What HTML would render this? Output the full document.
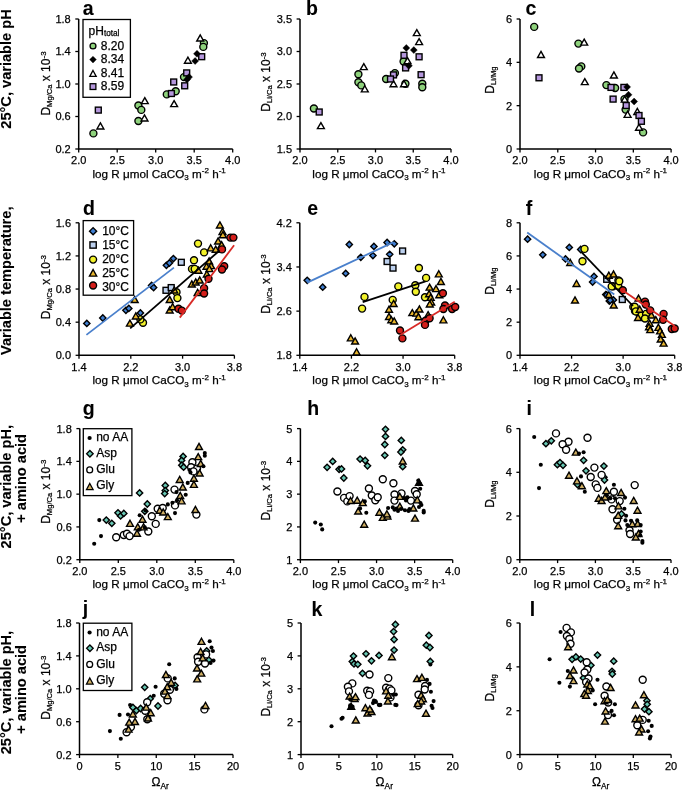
<!DOCTYPE html>
<html><head><meta charset="utf-8"><style>
html,body{margin:0;padding:0;background:#fff;overflow:hidden;}
svg{display:block;font-family:"Liberation Sans", sans-serif;will-change:transform;}
text{stroke:#000;stroke-width:0.25px;paint-order:stroke;}
text[font-weight="bold"]{stroke-width:0.1px;}
</style></head><body>
<svg width="685" height="793" viewBox="0 0 685 793" font-family="Liberation Sans, sans-serif">
<rect width="685" height="793" fill="#fff"/>
<path d="M78.70 19.00V149.00H232.70" fill="none" stroke="#000" stroke-width="1.5"/>
<path d="M78.70 149.00v3.4" stroke="#000" stroke-width="1.3"/>
<text x="78.70" y="164.40" font-size="11" text-anchor="middle" font-weight="normal" >2.0</text>
<path d="M117.20 149.00v3.4" stroke="#000" stroke-width="1.3"/>
<text x="117.20" y="164.40" font-size="11" text-anchor="middle" font-weight="normal" >2.5</text>
<path d="M155.70 149.00v3.4" stroke="#000" stroke-width="1.3"/>
<text x="155.70" y="164.40" font-size="11" text-anchor="middle" font-weight="normal" >3.0</text>
<path d="M194.20 149.00v3.4" stroke="#000" stroke-width="1.3"/>
<text x="194.20" y="164.40" font-size="11" text-anchor="middle" font-weight="normal" >3.5</text>
<path d="M232.70 149.00v3.4" stroke="#000" stroke-width="1.3"/>
<text x="232.70" y="164.40" font-size="11" text-anchor="middle" font-weight="normal" >4.0</text>
<path d="M78.70 149.00h-3.4" stroke="#000" stroke-width="1.3"/>
<text x="70.70" y="152.90" font-size="11" text-anchor="end" font-weight="normal" >0.2</text>
<path d="M78.70 116.50h-3.4" stroke="#000" stroke-width="1.3"/>
<text x="70.70" y="120.40" font-size="11" text-anchor="end" font-weight="normal" >0.6</text>
<path d="M78.70 84.00h-3.4" stroke="#000" stroke-width="1.3"/>
<text x="70.70" y="87.90" font-size="11" text-anchor="end" font-weight="normal" >1.0</text>
<path d="M78.70 51.50h-3.4" stroke="#000" stroke-width="1.3"/>
<text x="70.70" y="55.40" font-size="11" text-anchor="end" font-weight="normal" >1.4</text>
<path d="M78.70 19.00h-3.4" stroke="#000" stroke-width="1.3"/>
<text x="70.70" y="22.90" font-size="11" text-anchor="end" font-weight="normal" >1.8</text>
<path d="M300.00 19.00V149.00H451.00" fill="none" stroke="#000" stroke-width="1.5"/>
<path d="M300.00 149.00v3.4" stroke="#000" stroke-width="1.3"/>
<text x="300.00" y="164.40" font-size="11" text-anchor="middle" font-weight="normal" >2.0</text>
<path d="M337.75 149.00v3.4" stroke="#000" stroke-width="1.3"/>
<text x="337.75" y="164.40" font-size="11" text-anchor="middle" font-weight="normal" >2.5</text>
<path d="M375.50 149.00v3.4" stroke="#000" stroke-width="1.3"/>
<text x="375.50" y="164.40" font-size="11" text-anchor="middle" font-weight="normal" >3.0</text>
<path d="M413.25 149.00v3.4" stroke="#000" stroke-width="1.3"/>
<text x="413.25" y="164.40" font-size="11" text-anchor="middle" font-weight="normal" >3.5</text>
<path d="M451.00 149.00v3.4" stroke="#000" stroke-width="1.3"/>
<text x="451.00" y="164.40" font-size="11" text-anchor="middle" font-weight="normal" >4.0</text>
<path d="M300.00 149.00h-3.4" stroke="#000" stroke-width="1.3"/>
<text x="292.00" y="152.90" font-size="11" text-anchor="end" font-weight="normal" >1.5</text>
<path d="M300.00 116.50h-3.4" stroke="#000" stroke-width="1.3"/>
<text x="292.00" y="120.40" font-size="11" text-anchor="end" font-weight="normal" >2.0</text>
<path d="M300.00 84.00h-3.4" stroke="#000" stroke-width="1.3"/>
<text x="292.00" y="87.90" font-size="11" text-anchor="end" font-weight="normal" >2.5</text>
<path d="M300.00 51.50h-3.4" stroke="#000" stroke-width="1.3"/>
<text x="292.00" y="55.40" font-size="11" text-anchor="end" font-weight="normal" >3.0</text>
<path d="M300.00 19.00h-3.4" stroke="#000" stroke-width="1.3"/>
<text x="292.00" y="22.90" font-size="11" text-anchor="end" font-weight="normal" >3.5</text>
<path d="M520.00 19.00V149.00H671.10" fill="none" stroke="#000" stroke-width="1.5"/>
<path d="M520.00 149.00v3.4" stroke="#000" stroke-width="1.3"/>
<text x="520.00" y="164.40" font-size="11" text-anchor="middle" font-weight="normal" >2.0</text>
<path d="M557.77 149.00v3.4" stroke="#000" stroke-width="1.3"/>
<text x="557.77" y="164.40" font-size="11" text-anchor="middle" font-weight="normal" >2.5</text>
<path d="M595.55 149.00v3.4" stroke="#000" stroke-width="1.3"/>
<text x="595.55" y="164.40" font-size="11" text-anchor="middle" font-weight="normal" >3.0</text>
<path d="M633.33 149.00v3.4" stroke="#000" stroke-width="1.3"/>
<text x="633.33" y="164.40" font-size="11" text-anchor="middle" font-weight="normal" >3.5</text>
<path d="M671.10 149.00v3.4" stroke="#000" stroke-width="1.3"/>
<text x="671.10" y="164.40" font-size="11" text-anchor="middle" font-weight="normal" >4.0</text>
<path d="M520.00 149.00h-3.4" stroke="#000" stroke-width="1.3"/>
<text x="512.00" y="152.90" font-size="11" text-anchor="end" font-weight="normal" >0</text>
<path d="M520.00 105.67h-3.4" stroke="#000" stroke-width="1.3"/>
<text x="512.00" y="109.57" font-size="11" text-anchor="end" font-weight="normal" >2</text>
<path d="M520.00 62.33h-3.4" stroke="#000" stroke-width="1.3"/>
<text x="512.00" y="66.23" font-size="11" text-anchor="end" font-weight="normal" >4</text>
<path d="M520.00 19.00h-3.4" stroke="#000" stroke-width="1.3"/>
<text x="512.00" y="22.90" font-size="11" text-anchor="end" font-weight="normal" >6</text>
<path d="M79.00 222.80V355.30H234.40" fill="none" stroke="#000" stroke-width="1.5"/>
<path d="M79.00 355.30v3.4" stroke="#000" stroke-width="1.3"/>
<text x="79.00" y="370.70" font-size="11" text-anchor="middle" font-weight="normal" >1.4</text>
<path d="M130.80 355.30v3.4" stroke="#000" stroke-width="1.3"/>
<text x="130.80" y="370.70" font-size="11" text-anchor="middle" font-weight="normal" >2.2</text>
<path d="M182.60 355.30v3.4" stroke="#000" stroke-width="1.3"/>
<text x="182.60" y="370.70" font-size="11" text-anchor="middle" font-weight="normal" >3.0</text>
<path d="M234.40 355.30v3.4" stroke="#000" stroke-width="1.3"/>
<text x="234.40" y="370.70" font-size="11" text-anchor="middle" font-weight="normal" >3.8</text>
<path d="M79.00 355.30h-3.4" stroke="#000" stroke-width="1.3"/>
<text x="71.00" y="359.20" font-size="11" text-anchor="end" font-weight="normal" >0.0</text>
<path d="M79.00 322.18h-3.4" stroke="#000" stroke-width="1.3"/>
<text x="71.00" y="326.07" font-size="11" text-anchor="end" font-weight="normal" >0.4</text>
<path d="M79.00 289.05h-3.4" stroke="#000" stroke-width="1.3"/>
<text x="71.00" y="292.95" font-size="11" text-anchor="end" font-weight="normal" >0.8</text>
<path d="M79.00 255.93h-3.4" stroke="#000" stroke-width="1.3"/>
<text x="71.00" y="259.82" font-size="11" text-anchor="end" font-weight="normal" >1.2</text>
<path d="M79.00 222.80h-3.4" stroke="#000" stroke-width="1.3"/>
<text x="71.00" y="226.70" font-size="11" text-anchor="end" font-weight="normal" >1.6</text>
<path d="M299.80 222.80V355.30H454.70" fill="none" stroke="#000" stroke-width="1.5"/>
<path d="M299.80 355.30v3.4" stroke="#000" stroke-width="1.3"/>
<text x="299.80" y="370.70" font-size="11" text-anchor="middle" font-weight="normal" >1.4</text>
<path d="M351.43 355.30v3.4" stroke="#000" stroke-width="1.3"/>
<text x="351.43" y="370.70" font-size="11" text-anchor="middle" font-weight="normal" >2.2</text>
<path d="M403.07 355.30v3.4" stroke="#000" stroke-width="1.3"/>
<text x="403.07" y="370.70" font-size="11" text-anchor="middle" font-weight="normal" >3.0</text>
<path d="M454.70 355.30v3.4" stroke="#000" stroke-width="1.3"/>
<text x="454.70" y="370.70" font-size="11" text-anchor="middle" font-weight="normal" >3.8</text>
<path d="M299.80 355.30h-3.4" stroke="#000" stroke-width="1.3"/>
<text x="291.80" y="359.20" font-size="11" text-anchor="end" font-weight="normal" >1.8</text>
<path d="M299.80 311.13h-3.4" stroke="#000" stroke-width="1.3"/>
<text x="291.80" y="315.03" font-size="11" text-anchor="end" font-weight="normal" >2.6</text>
<path d="M299.80 266.97h-3.4" stroke="#000" stroke-width="1.3"/>
<text x="291.80" y="270.87" font-size="11" text-anchor="end" font-weight="normal" >3.4</text>
<path d="M299.80 222.80h-3.4" stroke="#000" stroke-width="1.3"/>
<text x="291.80" y="226.70" font-size="11" text-anchor="end" font-weight="normal" >4.2</text>
<path d="M520.00 222.80V355.30H674.70" fill="none" stroke="#000" stroke-width="1.5"/>
<path d="M520.00 355.30v3.4" stroke="#000" stroke-width="1.3"/>
<text x="520.00" y="370.70" font-size="11" text-anchor="middle" font-weight="normal" >1.4</text>
<path d="M571.57 355.30v3.4" stroke="#000" stroke-width="1.3"/>
<text x="571.57" y="370.70" font-size="11" text-anchor="middle" font-weight="normal" >2.2</text>
<path d="M623.13 355.30v3.4" stroke="#000" stroke-width="1.3"/>
<text x="623.13" y="370.70" font-size="11" text-anchor="middle" font-weight="normal" >3.0</text>
<path d="M674.70 355.30v3.4" stroke="#000" stroke-width="1.3"/>
<text x="674.70" y="370.70" font-size="11" text-anchor="middle" font-weight="normal" >3.8</text>
<path d="M520.00 355.30h-3.4" stroke="#000" stroke-width="1.3"/>
<text x="512.00" y="359.20" font-size="11" text-anchor="end" font-weight="normal" >0</text>
<path d="M520.00 322.18h-3.4" stroke="#000" stroke-width="1.3"/>
<text x="512.00" y="326.07" font-size="11" text-anchor="end" font-weight="normal" >2</text>
<path d="M520.00 289.05h-3.4" stroke="#000" stroke-width="1.3"/>
<text x="512.00" y="292.95" font-size="11" text-anchor="end" font-weight="normal" >4</text>
<path d="M520.00 255.93h-3.4" stroke="#000" stroke-width="1.3"/>
<text x="512.00" y="259.82" font-size="11" text-anchor="end" font-weight="normal" >6</text>
<path d="M520.00 222.80h-3.4" stroke="#000" stroke-width="1.3"/>
<text x="512.00" y="226.70" font-size="11" text-anchor="end" font-weight="normal" >8</text>
<path d="M79.80 428.60V559.70H233.80" fill="none" stroke="#000" stroke-width="1.5"/>
<path d="M79.80 559.70v3.4" stroke="#000" stroke-width="1.3"/>
<text x="79.80" y="575.10" font-size="11" text-anchor="middle" font-weight="normal" >2.0</text>
<path d="M118.30 559.70v3.4" stroke="#000" stroke-width="1.3"/>
<text x="118.30" y="575.10" font-size="11" text-anchor="middle" font-weight="normal" >2.5</text>
<path d="M156.80 559.70v3.4" stroke="#000" stroke-width="1.3"/>
<text x="156.80" y="575.10" font-size="11" text-anchor="middle" font-weight="normal" >3.0</text>
<path d="M195.30 559.70v3.4" stroke="#000" stroke-width="1.3"/>
<text x="195.30" y="575.10" font-size="11" text-anchor="middle" font-weight="normal" >3.5</text>
<path d="M233.80 559.70v3.4" stroke="#000" stroke-width="1.3"/>
<text x="233.80" y="575.10" font-size="11" text-anchor="middle" font-weight="normal" >4.0</text>
<path d="M79.80 559.70h-3.4" stroke="#000" stroke-width="1.3"/>
<text x="71.80" y="563.60" font-size="11" text-anchor="end" font-weight="normal" >0.2</text>
<path d="M79.80 526.93h-3.4" stroke="#000" stroke-width="1.3"/>
<text x="71.80" y="530.83" font-size="11" text-anchor="end" font-weight="normal" >0.6</text>
<path d="M79.80 494.15h-3.4" stroke="#000" stroke-width="1.3"/>
<text x="71.80" y="498.05" font-size="11" text-anchor="end" font-weight="normal" >1.0</text>
<path d="M79.80 461.38h-3.4" stroke="#000" stroke-width="1.3"/>
<text x="71.80" y="465.28" font-size="11" text-anchor="end" font-weight="normal" >1.4</text>
<path d="M79.80 428.60h-3.4" stroke="#000" stroke-width="1.3"/>
<text x="71.80" y="432.50" font-size="11" text-anchor="end" font-weight="normal" >1.8</text>
<path d="M300.40 428.60V559.70H452.70" fill="none" stroke="#000" stroke-width="1.5"/>
<path d="M300.40 559.70v3.4" stroke="#000" stroke-width="1.3"/>
<text x="300.40" y="575.10" font-size="11" text-anchor="middle" font-weight="normal" >2.0</text>
<path d="M338.47 559.70v3.4" stroke="#000" stroke-width="1.3"/>
<text x="338.47" y="575.10" font-size="11" text-anchor="middle" font-weight="normal" >2.5</text>
<path d="M376.55 559.70v3.4" stroke="#000" stroke-width="1.3"/>
<text x="376.55" y="575.10" font-size="11" text-anchor="middle" font-weight="normal" >3.0</text>
<path d="M414.62 559.70v3.4" stroke="#000" stroke-width="1.3"/>
<text x="414.62" y="575.10" font-size="11" text-anchor="middle" font-weight="normal" >3.5</text>
<path d="M452.70 559.70v3.4" stroke="#000" stroke-width="1.3"/>
<text x="452.70" y="575.10" font-size="11" text-anchor="middle" font-weight="normal" >4.0</text>
<path d="M300.40 559.70h-3.4" stroke="#000" stroke-width="1.3"/>
<text x="292.40" y="563.60" font-size="11" text-anchor="end" font-weight="normal" >1</text>
<path d="M300.40 526.93h-3.4" stroke="#000" stroke-width="1.3"/>
<text x="292.40" y="530.83" font-size="11" text-anchor="end" font-weight="normal" >2</text>
<path d="M300.40 494.15h-3.4" stroke="#000" stroke-width="1.3"/>
<text x="292.40" y="498.05" font-size="11" text-anchor="end" font-weight="normal" >3</text>
<path d="M300.40 461.38h-3.4" stroke="#000" stroke-width="1.3"/>
<text x="292.40" y="465.27" font-size="11" text-anchor="end" font-weight="normal" >4</text>
<path d="M300.40 428.60h-3.4" stroke="#000" stroke-width="1.3"/>
<text x="292.40" y="432.50" font-size="11" text-anchor="end" font-weight="normal" >5</text>
<path d="M519.80 428.60V559.70H671.00" fill="none" stroke="#000" stroke-width="1.5"/>
<path d="M519.80 559.70v3.4" stroke="#000" stroke-width="1.3"/>
<text x="519.80" y="575.10" font-size="11" text-anchor="middle" font-weight="normal" >2.0</text>
<path d="M557.60 559.70v3.4" stroke="#000" stroke-width="1.3"/>
<text x="557.60" y="575.10" font-size="11" text-anchor="middle" font-weight="normal" >2.5</text>
<path d="M595.40 559.70v3.4" stroke="#000" stroke-width="1.3"/>
<text x="595.40" y="575.10" font-size="11" text-anchor="middle" font-weight="normal" >3.0</text>
<path d="M633.20 559.70v3.4" stroke="#000" stroke-width="1.3"/>
<text x="633.20" y="575.10" font-size="11" text-anchor="middle" font-weight="normal" >3.5</text>
<path d="M671.00 559.70v3.4" stroke="#000" stroke-width="1.3"/>
<text x="671.00" y="575.10" font-size="11" text-anchor="middle" font-weight="normal" >4.0</text>
<path d="M519.80 559.70h-3.4" stroke="#000" stroke-width="1.3"/>
<text x="511.80" y="563.60" font-size="11" text-anchor="end" font-weight="normal" >0</text>
<path d="M519.80 516.00h-3.4" stroke="#000" stroke-width="1.3"/>
<text x="511.80" y="519.90" font-size="11" text-anchor="end" font-weight="normal" >2</text>
<path d="M519.80 472.30h-3.4" stroke="#000" stroke-width="1.3"/>
<text x="511.80" y="476.20" font-size="11" text-anchor="end" font-weight="normal" >4</text>
<path d="M519.80 428.60h-3.4" stroke="#000" stroke-width="1.3"/>
<text x="511.80" y="432.50" font-size="11" text-anchor="end" font-weight="normal" >6</text>
<path d="M79.50 623.00V754.60H233.00" fill="none" stroke="#000" stroke-width="1.5"/>
<path d="M79.50 754.60v3.4" stroke="#000" stroke-width="1.3"/>
<text x="79.50" y="770.00" font-size="11" text-anchor="middle" font-weight="normal" >0</text>
<path d="M117.88 754.60v3.4" stroke="#000" stroke-width="1.3"/>
<text x="117.88" y="770.00" font-size="11" text-anchor="middle" font-weight="normal" >5</text>
<path d="M156.25 754.60v3.4" stroke="#000" stroke-width="1.3"/>
<text x="156.25" y="770.00" font-size="11" text-anchor="middle" font-weight="normal" >10</text>
<path d="M194.62 754.60v3.4" stroke="#000" stroke-width="1.3"/>
<text x="194.62" y="770.00" font-size="11" text-anchor="middle" font-weight="normal" >15</text>
<path d="M233.00 754.60v3.4" stroke="#000" stroke-width="1.3"/>
<text x="233.00" y="770.00" font-size="11" text-anchor="middle" font-weight="normal" >20</text>
<path d="M79.50 754.60h-3.4" stroke="#000" stroke-width="1.3"/>
<text x="71.50" y="758.50" font-size="11" text-anchor="end" font-weight="normal" >0.2</text>
<path d="M79.50 721.70h-3.4" stroke="#000" stroke-width="1.3"/>
<text x="71.50" y="725.60" font-size="11" text-anchor="end" font-weight="normal" >0.6</text>
<path d="M79.50 688.80h-3.4" stroke="#000" stroke-width="1.3"/>
<text x="71.50" y="692.70" font-size="11" text-anchor="end" font-weight="normal" >1.0</text>
<path d="M79.50 655.90h-3.4" stroke="#000" stroke-width="1.3"/>
<text x="71.50" y="659.80" font-size="11" text-anchor="end" font-weight="normal" >1.4</text>
<path d="M79.50 623.00h-3.4" stroke="#000" stroke-width="1.3"/>
<text x="71.50" y="626.90" font-size="11" text-anchor="end" font-weight="normal" >1.8</text>
<path d="M301.00 623.00V754.60H452.70" fill="none" stroke="#000" stroke-width="1.5"/>
<path d="M301.00 754.60v3.4" stroke="#000" stroke-width="1.3"/>
<text x="301.00" y="770.00" font-size="11" text-anchor="middle" font-weight="normal" >0</text>
<path d="M338.93 754.60v3.4" stroke="#000" stroke-width="1.3"/>
<text x="338.93" y="770.00" font-size="11" text-anchor="middle" font-weight="normal" >5</text>
<path d="M376.85 754.60v3.4" stroke="#000" stroke-width="1.3"/>
<text x="376.85" y="770.00" font-size="11" text-anchor="middle" font-weight="normal" >10</text>
<path d="M414.77 754.60v3.4" stroke="#000" stroke-width="1.3"/>
<text x="414.77" y="770.00" font-size="11" text-anchor="middle" font-weight="normal" >15</text>
<path d="M452.70 754.60v3.4" stroke="#000" stroke-width="1.3"/>
<text x="452.70" y="770.00" font-size="11" text-anchor="middle" font-weight="normal" >20</text>
<path d="M301.00 754.60h-3.4" stroke="#000" stroke-width="1.3"/>
<text x="293.00" y="758.50" font-size="11" text-anchor="end" font-weight="normal" >1</text>
<path d="M301.00 721.70h-3.4" stroke="#000" stroke-width="1.3"/>
<text x="293.00" y="725.60" font-size="11" text-anchor="end" font-weight="normal" >2</text>
<path d="M301.00 688.80h-3.4" stroke="#000" stroke-width="1.3"/>
<text x="293.00" y="692.70" font-size="11" text-anchor="end" font-weight="normal" >3</text>
<path d="M301.00 655.90h-3.4" stroke="#000" stroke-width="1.3"/>
<text x="293.00" y="659.80" font-size="11" text-anchor="end" font-weight="normal" >4</text>
<path d="M301.00 623.00h-3.4" stroke="#000" stroke-width="1.3"/>
<text x="293.00" y="626.90" font-size="11" text-anchor="end" font-weight="normal" >5</text>
<path d="M519.90 623.00V754.60H671.10" fill="none" stroke="#000" stroke-width="1.5"/>
<path d="M519.90 754.60v3.4" stroke="#000" stroke-width="1.3"/>
<text x="519.90" y="770.00" font-size="11" text-anchor="middle" font-weight="normal" >0</text>
<path d="M557.70 754.60v3.4" stroke="#000" stroke-width="1.3"/>
<text x="557.70" y="770.00" font-size="11" text-anchor="middle" font-weight="normal" >5</text>
<path d="M595.50 754.60v3.4" stroke="#000" stroke-width="1.3"/>
<text x="595.50" y="770.00" font-size="11" text-anchor="middle" font-weight="normal" >10</text>
<path d="M633.30 754.60v3.4" stroke="#000" stroke-width="1.3"/>
<text x="633.30" y="770.00" font-size="11" text-anchor="middle" font-weight="normal" >15</text>
<path d="M671.10 754.60v3.4" stroke="#000" stroke-width="1.3"/>
<text x="671.10" y="770.00" font-size="11" text-anchor="middle" font-weight="normal" >20</text>
<path d="M519.90 754.60h-3.4" stroke="#000" stroke-width="1.3"/>
<text x="511.90" y="758.50" font-size="11" text-anchor="end" font-weight="normal" >0</text>
<path d="M519.90 710.73h-3.4" stroke="#000" stroke-width="1.3"/>
<text x="511.90" y="714.63" font-size="11" text-anchor="end" font-weight="normal" >2</text>
<path d="M519.90 666.87h-3.4" stroke="#000" stroke-width="1.3"/>
<text x="511.90" y="670.77" font-size="11" text-anchor="end" font-weight="normal" >4</text>
<path d="M519.90 623.00h-3.4" stroke="#000" stroke-width="1.3"/>
<text x="511.90" y="626.90" font-size="11" text-anchor="end" font-weight="normal" >6</text>
<text x="92.50" y="177.60" font-size="11.7">log R μmol CaCO<tspan font-size="8" dy="2.6">3</tspan><tspan dy="-2.6"> m</tspan><tspan font-size="8" dy="-4.2">-2</tspan><tspan dy="4.2"> h</tspan><tspan font-size="8" dy="-4.2">-1</tspan></text>
<text x="312.30" y="177.60" font-size="11.7">log R μmol CaCO<tspan font-size="8" dy="2.6">3</tspan><tspan dy="-2.6"> m</tspan><tspan font-size="8" dy="-4.2">-2</tspan><tspan dy="4.2"> h</tspan><tspan font-size="8" dy="-4.2">-1</tspan></text>
<text x="533.80" y="177.60" font-size="11.7">log R μmol CaCO<tspan font-size="8" dy="2.6">3</tspan><tspan dy="-2.6"> m</tspan><tspan font-size="8" dy="-4.2">-2</tspan><tspan dy="4.2"> h</tspan><tspan font-size="8" dy="-4.2">-1</tspan></text>
<text x="92.50" y="383.90" font-size="11.7">log R μmol CaCO<tspan font-size="8" dy="2.6">3</tspan><tspan dy="-2.6"> m</tspan><tspan font-size="8" dy="-4.2">-2</tspan><tspan dy="4.2"> h</tspan><tspan font-size="8" dy="-4.2">-1</tspan></text>
<text x="312.30" y="383.90" font-size="11.7">log R μmol CaCO<tspan font-size="8" dy="2.6">3</tspan><tspan dy="-2.6"> m</tspan><tspan font-size="8" dy="-4.2">-2</tspan><tspan dy="4.2"> h</tspan><tspan font-size="8" dy="-4.2">-1</tspan></text>
<text x="533.80" y="383.90" font-size="11.7">log R μmol CaCO<tspan font-size="8" dy="2.6">3</tspan><tspan dy="-2.6"> m</tspan><tspan font-size="8" dy="-4.2">-2</tspan><tspan dy="4.2"> h</tspan><tspan font-size="8" dy="-4.2">-1</tspan></text>
<text x="92.50" y="588.30" font-size="11.7">log R μmol CaCO<tspan font-size="8" dy="2.6">3</tspan><tspan dy="-2.6"> m</tspan><tspan font-size="8" dy="-4.2">-2</tspan><tspan dy="4.2"> h</tspan><tspan font-size="8" dy="-4.2">-1</tspan></text>
<text x="312.30" y="588.30" font-size="11.7">log R μmol CaCO<tspan font-size="8" dy="2.6">3</tspan><tspan dy="-2.6"> m</tspan><tspan font-size="8" dy="-4.2">-2</tspan><tspan dy="4.2"> h</tspan><tspan font-size="8" dy="-4.2">-1</tspan></text>
<text x="533.80" y="588.30" font-size="11.7">log R μmol CaCO<tspan font-size="8" dy="2.6">3</tspan><tspan dy="-2.6"> m</tspan><tspan font-size="8" dy="-4.2">-2</tspan><tspan dy="4.2"> h</tspan><tspan font-size="8" dy="-4.2">-1</tspan></text>
<text x="151.50" y="785.50" font-size="12">Ω<tspan font-size="8.4" dy="3.6">Ar</tspan></text>
<text x="375.60" y="785.50" font-size="12">Ω<tspan font-size="8.4" dy="3.6">Ar</tspan></text>
<text x="591.90" y="785.50" font-size="12">Ω<tspan font-size="8.4" dy="3.6">Ar</tspan></text>
<text transform="translate(49.90,83.50) rotate(-90)" font-size="12" text-anchor="middle">D<tspan font-size="7.6" dy="1.9">Mg/Ca</tspan><tspan dy="-1.9"> x 10</tspan><tspan font-size="8" dy="-4.4">-3</tspan></text>
<text transform="translate(270.00,82.00) rotate(-90)" font-size="12" text-anchor="middle">D<tspan font-size="7.6" dy="1.9">Li/Ca</tspan><tspan dy="-1.9"> x 10</tspan><tspan font-size="8" dy="-4.4">-3</tspan></text>
<text transform="translate(494.00,80.10) rotate(-90)" font-size="12" text-anchor="middle">D<tspan font-size="7.6" dy="1.9">Li/Mg</tspan></text>
<text transform="translate(49.90,287.05) rotate(-90)" font-size="12" text-anchor="middle">D<tspan font-size="7.6" dy="1.9">Mg/Ca</tspan><tspan dy="-1.9"> x 10</tspan><tspan font-size="8" dy="-4.4">-3</tspan></text>
<text transform="translate(270.00,284.05) rotate(-90)" font-size="12" text-anchor="middle">D<tspan font-size="7.6" dy="1.9">Li/Ca</tspan><tspan dy="-1.9"> x 10</tspan><tspan font-size="8" dy="-4.4">-3</tspan></text>
<text transform="translate(494.00,281.15) rotate(-90)" font-size="12" text-anchor="middle">D<tspan font-size="7.6" dy="1.9">Li/Mg</tspan></text>
<text transform="translate(49.90,491.75) rotate(-90)" font-size="12" text-anchor="middle">D<tspan font-size="7.6" dy="1.9">Mg/Ca</tspan><tspan dy="-1.9"> x 10</tspan><tspan font-size="8" dy="-4.4">-3</tspan></text>
<text transform="translate(270.00,490.65) rotate(-90)" font-size="12" text-anchor="middle">D<tspan font-size="7.6" dy="1.9">Li/Ca</tspan><tspan dy="-1.9"> x 10</tspan><tspan font-size="8" dy="-4.4">-3</tspan></text>
<text transform="translate(494.00,494.05) rotate(-90)" font-size="12" text-anchor="middle">D<tspan font-size="7.6" dy="1.9">Li/Mg</tspan></text>
<text transform="translate(49.90,687.70) rotate(-90)" font-size="12" text-anchor="middle">D<tspan font-size="7.6" dy="1.9">Mg/Ca</tspan><tspan dy="-1.9"> x 10</tspan><tspan font-size="8" dy="-4.4">-3</tspan></text>
<text transform="translate(270.00,686.80) rotate(-90)" font-size="12" text-anchor="middle">D<tspan font-size="7.6" dy="1.9">Li/Ca</tspan><tspan dy="-1.9"> x 10</tspan><tspan font-size="8" dy="-4.4">-3</tspan></text>
<text transform="translate(494.00,687.80) rotate(-90)" font-size="12" text-anchor="middle">D<tspan font-size="7.6" dy="1.9">Li/Mg</tspan></text>
<text x="82.70" y="14.60" font-size="19.5" font-weight="bold">a</text>
<text x="306.00" y="15.00" font-size="19.5" font-weight="bold">b</text>
<text x="525.50" y="14.90" font-size="19.5" font-weight="bold">c</text>
<text x="82.90" y="214.50" font-size="19.5" font-weight="bold">d</text>
<text x="307.20" y="215.20" font-size="19.5" font-weight="bold">e</text>
<text x="525.70" y="214.90" font-size="19.5" font-weight="bold">f</text>
<text x="82.70" y="415.00" font-size="19.5" font-weight="bold">g</text>
<text x="307.20" y="414.90" font-size="19.5" font-weight="bold">h</text>
<text x="526.60" y="414.90" font-size="19.5" font-weight="bold">i</text>
<text x="82.70" y="615.00" font-size="19.5" font-weight="bold">j</text>
<text x="311.60" y="615.60" font-size="19.5" font-weight="bold">k</text>
<text x="529.70" y="615.60" font-size="19.5" font-weight="bold">l</text>
<text transform="translate(10.80,128.70) rotate(-90)" font-size="14.6" font-weight="bold">25°C, variable pH</text>
<text transform="translate(11.40,355.00) rotate(-90)" font-size="14.6" font-weight="bold">Variable temperature,</text>
<text transform="translate(11.40,548.40) rotate(-90)" font-size="14.6" font-weight="bold">25°C, variable pH,</text>
<text transform="translate(26.10,522.80) rotate(-90)" font-size="14.6" font-weight="bold">+ amino acid</text>
<text transform="translate(11.40,754.30) rotate(-90)" font-size="14.6" font-weight="bold">25°C, variable pH,</text>
<text transform="translate(26.10,733.80) rotate(-90)" font-size="14.6" font-weight="bold">+ amino acid</text>
<circle cx="93.40" cy="133.40" r="3.5" fill="#8ed27c" stroke="#000" stroke-width="1.4"/>
<circle cx="138.40" cy="105.50" r="3.5" fill="#8ed27c" stroke="#000" stroke-width="1.4"/>
<circle cx="141.30" cy="109.90" r="3.5" fill="#8ed27c" stroke="#000" stroke-width="1.4"/>
<circle cx="138.40" cy="121.00" r="3.5" fill="#8ed27c" stroke="#000" stroke-width="1.4"/>
<circle cx="203.90" cy="43.10" r="3.5" fill="#8ed27c" stroke="#000" stroke-width="1.4"/>
<circle cx="203.30" cy="46.90" r="3.5" fill="#8ed27c" stroke="#000" stroke-width="1.4"/>
<circle cx="184.00" cy="77.10" r="3.5" fill="#8ed27c" stroke="#000" stroke-width="1.4"/>
<circle cx="175.70" cy="91.20" r="3.5" fill="#8ed27c" stroke="#000" stroke-width="1.4"/>
<circle cx="166.80" cy="94.40" r="3.5" fill="#8ed27c" stroke="#000" stroke-width="1.4"/>
<path d="M100.40 122.85L103.85 128.95L96.95 128.95Z" fill="#ffffff" stroke="#000" stroke-width="1.4"/>
<path d="M144.80 97.55L148.25 103.65L141.35 103.65Z" fill="#ffffff" stroke="#000" stroke-width="1.4"/>
<path d="M144.50 114.85L147.95 120.95L141.05 120.95Z" fill="#ffffff" stroke="#000" stroke-width="1.4"/>
<path d="M200.20 34.95L203.65 41.05L196.75 41.05Z" fill="#ffffff" stroke="#000" stroke-width="1.4"/>
<path d="M187.90 57.15L191.35 63.25L184.45 63.25Z" fill="#ffffff" stroke="#000" stroke-width="1.4"/>
<path d="M174.10 100.55L177.55 106.65L170.65 106.65Z" fill="#ffffff" stroke="#000" stroke-width="1.4"/>
<rect x="95.35" y="107.15" width="5.90" height="5.90" fill="#b597dd" stroke="#000" stroke-width="1.4"/>
<rect x="198.75" y="53.75" width="5.90" height="5.90" fill="#b597dd" stroke="#000" stroke-width="1.4"/>
<rect x="183.75" y="69.95" width="5.90" height="5.90" fill="#b597dd" stroke="#000" stroke-width="1.4"/>
<rect x="170.75" y="79.05" width="5.90" height="5.90" fill="#b597dd" stroke="#000" stroke-width="1.4"/>
<rect x="181.75" y="82.85" width="5.90" height="5.90" fill="#b597dd" stroke="#000" stroke-width="1.4"/>
<rect x="168.45" y="90.55" width="5.90" height="5.90" fill="#b597dd" stroke="#000" stroke-width="1.4"/>
<path d="M197.00 50.30L200.50 53.80L197.00 57.30L193.50 53.80Z" fill="#000" stroke="#000" stroke-width="0.4"/>
<path d="M195.10 57.50L198.60 61.00L195.10 64.50L191.60 61.00Z" fill="#000" stroke="#000" stroke-width="0.4"/>
<path d="M189.00 73.60L192.50 77.10L189.00 80.60L185.50 77.10Z" fill="#000" stroke="#000" stroke-width="0.4"/>
<path d="M187.00 75.90L190.50 79.40L187.00 82.90L183.50 79.40Z" fill="#000" stroke="#000" stroke-width="0.4"/>
<circle cx="313.90" cy="108.50" r="3.5" fill="#8ed27c" stroke="#000" stroke-width="1.4"/>
<circle cx="358.40" cy="74.20" r="3.5" fill="#8ed27c" stroke="#000" stroke-width="1.4"/>
<circle cx="358.40" cy="82.30" r="3.5" fill="#8ed27c" stroke="#000" stroke-width="1.4"/>
<circle cx="361.30" cy="85.40" r="3.5" fill="#8ed27c" stroke="#000" stroke-width="1.4"/>
<circle cx="386.10" cy="79.00" r="3.5" fill="#8ed27c" stroke="#000" stroke-width="1.4"/>
<circle cx="394.90" cy="73.10" r="3.5" fill="#8ed27c" stroke="#000" stroke-width="1.4"/>
<circle cx="403.60" cy="61.50" r="3.5" fill="#8ed27c" stroke="#000" stroke-width="1.4"/>
<circle cx="405.40" cy="83.70" r="3.5" fill="#8ed27c" stroke="#000" stroke-width="1.4"/>
<circle cx="422.30" cy="83.70" r="3.5" fill="#8ed27c" stroke="#000" stroke-width="1.4"/>
<circle cx="422.30" cy="87.20" r="3.5" fill="#8ed27c" stroke="#000" stroke-width="1.4"/>
<path d="M320.90 122.55L324.35 128.65L317.45 128.65Z" fill="#ffffff" stroke="#000" stroke-width="1.4"/>
<path d="M363.80 63.55L367.25 69.65L360.35 69.65Z" fill="#ffffff" stroke="#000" stroke-width="1.4"/>
<path d="M364.80 85.75L368.25 91.85L361.35 91.85Z" fill="#ffffff" stroke="#000" stroke-width="1.4"/>
<path d="M393.50 80.65L396.95 86.75L390.05 86.75Z" fill="#ffffff" stroke="#000" stroke-width="1.4"/>
<path d="M416.80 29.55L420.25 35.65L413.35 35.65Z" fill="#ffffff" stroke="#000" stroke-width="1.4"/>
<path d="M419.10 38.55L422.55 44.65L415.65 44.65Z" fill="#ffffff" stroke="#000" stroke-width="1.4"/>
<path d="M407.50 57.55L410.95 63.65L404.05 63.65Z" fill="#ffffff" stroke="#000" stroke-width="1.4"/>
<path d="M404.00 80.65L407.45 86.75L400.55 86.75Z" fill="#ffffff" stroke="#000" stroke-width="1.4"/>
<rect x="316.25" y="109.05" width="5.90" height="5.90" fill="#b597dd" stroke="#000" stroke-width="1.4"/>
<rect x="390.55" y="71.95" width="5.90" height="5.90" fill="#b597dd" stroke="#000" stroke-width="1.4"/>
<rect x="387.55" y="76.05" width="5.90" height="5.90" fill="#b597dd" stroke="#000" stroke-width="1.4"/>
<rect x="401.05" y="52.35" width="5.90" height="5.90" fill="#b597dd" stroke="#000" stroke-width="1.4"/>
<rect x="416.15" y="53.85" width="5.90" height="5.90" fill="#b597dd" stroke="#000" stroke-width="1.4"/>
<rect x="402.65" y="64.95" width="5.90" height="5.90" fill="#b597dd" stroke="#000" stroke-width="1.4"/>
<rect x="418.15" y="71.75" width="5.90" height="5.90" fill="#b597dd" stroke="#000" stroke-width="1.4"/>
<path d="M406.30 44.50L409.80 48.00L406.30 51.50L402.80 48.00Z" fill="#000" stroke="#000" stroke-width="0.4"/>
<path d="M413.80 46.60L417.30 50.10L413.80 53.60L410.30 50.10Z" fill="#000" stroke="#000" stroke-width="0.4"/>
<path d="M408.90 62.30L412.40 65.80L408.90 69.30L405.40 65.80Z" fill="#000" stroke="#000" stroke-width="0.4"/>
<circle cx="534.20" cy="26.90" r="3.5" fill="#8ed27c" stroke="#000" stroke-width="1.4"/>
<circle cx="578.40" cy="43.60" r="3.5" fill="#8ed27c" stroke="#000" stroke-width="1.4"/>
<circle cx="581.30" cy="66.40" r="3.5" fill="#8ed27c" stroke="#000" stroke-width="1.4"/>
<circle cx="579.00" cy="68.50" r="3.5" fill="#8ed27c" stroke="#000" stroke-width="1.4"/>
<circle cx="606.40" cy="85.10" r="3.5" fill="#8ed27c" stroke="#000" stroke-width="1.4"/>
<circle cx="615.10" cy="88.00" r="3.5" fill="#8ed27c" stroke="#000" stroke-width="1.4"/>
<circle cx="624.50" cy="99.10" r="3.5" fill="#8ed27c" stroke="#000" stroke-width="1.4"/>
<circle cx="625.60" cy="109.60" r="3.5" fill="#8ed27c" stroke="#000" stroke-width="1.4"/>
<circle cx="643.10" cy="132.40" r="3.5" fill="#8ed27c" stroke="#000" stroke-width="1.4"/>
<path d="M541.00 51.45L544.45 57.55L537.55 57.55Z" fill="#ffffff" stroke="#000" stroke-width="1.4"/>
<path d="M584.20 39.05L587.65 45.15L580.75 45.15Z" fill="#ffffff" stroke="#000" stroke-width="1.4"/>
<path d="M584.80 78.55L588.25 84.65L581.35 84.65Z" fill="#ffffff" stroke="#000" stroke-width="1.4"/>
<path d="M613.90 71.95L617.35 78.05L610.45 78.05Z" fill="#ffffff" stroke="#000" stroke-width="1.4"/>
<path d="M624.70 96.05L628.15 102.15L621.25 102.15Z" fill="#ffffff" stroke="#000" stroke-width="1.4"/>
<path d="M627.60 111.25L631.05 117.35L624.15 117.35Z" fill="#ffffff" stroke="#000" stroke-width="1.4"/>
<path d="M637.30 108.35L640.75 114.45L633.85 114.45Z" fill="#ffffff" stroke="#000" stroke-width="1.4"/>
<path d="M639.00 124.15L642.45 130.25L635.55 130.25Z" fill="#ffffff" stroke="#000" stroke-width="1.4"/>
<rect x="536.05" y="74.85" width="5.90" height="5.90" fill="#b597dd" stroke="#000" stroke-width="1.4"/>
<rect x="608.05" y="84.45" width="5.90" height="5.90" fill="#b597dd" stroke="#000" stroke-width="1.4"/>
<rect x="620.95" y="84.45" width="5.90" height="5.90" fill="#b597dd" stroke="#000" stroke-width="1.4"/>
<rect x="610.15" y="96.15" width="5.90" height="5.90" fill="#b597dd" stroke="#000" stroke-width="1.4"/>
<rect x="623.25" y="102.55" width="5.90" height="5.90" fill="#b597dd" stroke="#000" stroke-width="1.4"/>
<rect x="636.05" y="112.55" width="5.90" height="5.90" fill="#b597dd" stroke="#000" stroke-width="1.4"/>
<rect x="638.45" y="118.35" width="5.90" height="5.90" fill="#b597dd" stroke="#000" stroke-width="1.4"/>
<path d="M627.10 83.40L630.60 86.90L627.10 90.40L623.60 86.90Z" fill="#000" stroke="#000" stroke-width="0.4"/>
<path d="M628.50 91.30L632.00 94.80L628.50 98.30L625.00 94.80Z" fill="#000" stroke="#000" stroke-width="0.4"/>
<path d="M634.10 98.00L637.60 101.50L634.10 105.00L630.60 101.50Z" fill="#000" stroke="#000" stroke-width="0.4"/>
<path d="M86.80 320.25L89.95 323.40L86.80 326.55L83.65 323.40Z" fill="#3f7fd2" stroke="#000" stroke-width="1.4"/>
<path d="M102.80 314.85L105.95 318.00L102.80 321.15L99.65 318.00Z" fill="#3f7fd2" stroke="#000" stroke-width="1.4"/>
<path d="M125.90 307.15L129.05 310.30L125.90 313.45L122.75 310.30Z" fill="#3f7fd2" stroke="#000" stroke-width="1.4"/>
<path d="M128.80 305.25L131.95 308.40L128.80 311.55L125.65 308.40Z" fill="#3f7fd2" stroke="#000" stroke-width="1.4"/>
<path d="M140.40 309.75L143.55 312.90L140.40 316.05L137.25 312.90Z" fill="#3f7fd2" stroke="#000" stroke-width="1.4"/>
<path d="M151.60 282.35L154.75 285.50L151.60 288.65L148.45 285.50Z" fill="#3f7fd2" stroke="#000" stroke-width="1.4"/>
<path d="M153.60 284.45L156.75 287.60L153.60 290.75L150.45 287.60Z" fill="#3f7fd2" stroke="#000" stroke-width="1.4"/>
<path d="M166.40 262.15L169.55 265.30L166.40 268.45L163.25 265.30Z" fill="#3f7fd2" stroke="#000" stroke-width="1.4"/>
<path d="M169.40 259.85L172.55 263.00L169.40 266.15L166.25 263.00Z" fill="#3f7fd2" stroke="#000" stroke-width="1.4"/>
<path d="M173.40 255.45L176.55 258.60L173.40 261.75L170.25 258.60Z" fill="#3f7fd2" stroke="#000" stroke-width="1.4"/>
<rect x="178.35" y="259.35" width="5.90" height="5.90" fill="#bcd0ee" stroke="#000" stroke-width="1.4"/>
<rect x="163.05" y="287.35" width="5.90" height="5.90" fill="#bcd0ee" stroke="#000" stroke-width="1.4"/>
<rect x="168.25" y="284.65" width="5.90" height="5.90" fill="#bcd0ee" stroke="#000" stroke-width="1.4"/>
<circle cx="143.00" cy="322.80" r="3.5" fill="#f2f22a" stroke="#000" stroke-width="1.4"/>
<circle cx="140.40" cy="319.40" r="3.5" fill="#f2f22a" stroke="#000" stroke-width="1.4"/>
<circle cx="176.50" cy="292.20" r="3.5" fill="#f2f22a" stroke="#000" stroke-width="1.4"/>
<circle cx="177.40" cy="298.10" r="3.5" fill="#f2f22a" stroke="#000" stroke-width="1.4"/>
<circle cx="198.00" cy="243.60" r="3.5" fill="#f2f22a" stroke="#000" stroke-width="1.4"/>
<circle cx="204.10" cy="252.40" r="3.5" fill="#f2f22a" stroke="#000" stroke-width="1.4"/>
<circle cx="194.00" cy="260.30" r="3.5" fill="#f2f22a" stroke="#000" stroke-width="1.4"/>
<circle cx="192.00" cy="268.90" r="3.5" fill="#f2f22a" stroke="#000" stroke-width="1.4"/>
<circle cx="194.70" cy="268.90" r="3.5" fill="#f2f22a" stroke="#000" stroke-width="1.4"/>
<path d="M134.70 296.45L138.15 302.55L131.25 302.55Z" fill="#e8b52c" stroke="#000" stroke-width="1.4"/>
<path d="M135.80 312.85L139.25 318.95L132.35 318.95Z" fill="#e8b52c" stroke="#000" stroke-width="1.4"/>
<path d="M129.90 320.05L133.35 326.15L126.45 326.15Z" fill="#e8b52c" stroke="#000" stroke-width="1.4"/>
<path d="M169.70 306.95L173.15 313.05L166.25 313.05Z" fill="#e8b52c" stroke="#000" stroke-width="1.4"/>
<path d="M172.60 303.65L176.05 309.75L169.15 309.75Z" fill="#e8b52c" stroke="#000" stroke-width="1.4"/>
<path d="M169.70 296.45L173.15 302.55L166.25 302.55Z" fill="#e8b52c" stroke="#000" stroke-width="1.4"/>
<path d="M174.30 286.85L177.75 292.95L170.85 292.95Z" fill="#e8b52c" stroke="#000" stroke-width="1.4"/>
<path d="M219.90 221.85L223.35 227.95L216.45 227.95Z" fill="#e8b52c" stroke="#000" stroke-width="1.4"/>
<path d="M222.50 228.35L225.95 234.45L219.05 234.45Z" fill="#e8b52c" stroke="#000" stroke-width="1.4"/>
<path d="M222.90 231.65L226.35 237.75L219.45 237.75Z" fill="#e8b52c" stroke="#000" stroke-width="1.4"/>
<path d="M218.10 237.95L221.55 244.05L214.65 244.05Z" fill="#e8b52c" stroke="#000" stroke-width="1.4"/>
<path d="M221.60 241.55L225.05 247.65L218.15 247.65Z" fill="#e8b52c" stroke="#000" stroke-width="1.4"/>
<path d="M210.70 244.75L214.15 250.85L207.25 250.85Z" fill="#e8b52c" stroke="#000" stroke-width="1.4"/>
<path d="M215.70 246.15L219.15 252.25L212.25 252.25Z" fill="#e8b52c" stroke="#000" stroke-width="1.4"/>
<path d="M198.40 267.15L201.85 273.25L194.95 273.25Z" fill="#e8b52c" stroke="#000" stroke-width="1.4"/>
<path d="M209.10 257.95L212.55 264.05L205.65 264.05Z" fill="#e8b52c" stroke="#000" stroke-width="1.4"/>
<path d="M211.10 262.55L214.55 268.65L207.65 268.65Z" fill="#e8b52c" stroke="#000" stroke-width="1.4"/>
<path d="M206.50 263.15L209.95 269.25L203.05 269.25Z" fill="#e8b52c" stroke="#000" stroke-width="1.4"/>
<path d="M209.40 265.55L212.85 271.65L205.95 271.65Z" fill="#e8b52c" stroke="#000" stroke-width="1.4"/>
<path d="M206.80 270.85L210.25 276.95L203.35 276.95Z" fill="#e8b52c" stroke="#000" stroke-width="1.4"/>
<path d="M191.80 280.95L195.25 287.05L188.35 287.05Z" fill="#e8b52c" stroke="#000" stroke-width="1.4"/>
<path d="M195.70 278.95L199.15 285.05L192.25 285.05Z" fill="#e8b52c" stroke="#000" stroke-width="1.4"/>
<path d="M199.70 276.95L203.15 283.05L196.25 283.05Z" fill="#e8b52c" stroke="#000" stroke-width="1.4"/>
<path d="M197.60 289.45L201.05 295.55L194.15 295.55Z" fill="#e8b52c" stroke="#000" stroke-width="1.4"/>
<circle cx="230.40" cy="237.60" r="3.5" fill="#d41e1a" stroke="#000" stroke-width="1.4"/>
<circle cx="233.40" cy="237.60" r="3.5" fill="#d41e1a" stroke="#000" stroke-width="1.4"/>
<circle cx="222.00" cy="249.40" r="3.5" fill="#d41e1a" stroke="#000" stroke-width="1.4"/>
<circle cx="224.20" cy="266.20" r="3.5" fill="#d41e1a" stroke="#000" stroke-width="1.4"/>
<circle cx="222.00" cy="269.50" r="3.5" fill="#d41e1a" stroke="#000" stroke-width="1.4"/>
<circle cx="208.50" cy="278.70" r="3.5" fill="#d41e1a" stroke="#000" stroke-width="1.4"/>
<circle cx="204.10" cy="288.30" r="3.5" fill="#d41e1a" stroke="#000" stroke-width="1.4"/>
<circle cx="204.10" cy="293.50" r="3.5" fill="#d41e1a" stroke="#000" stroke-width="1.4"/>
<circle cx="178.50" cy="308.70" r="3.5" fill="#d41e1a" stroke="#000" stroke-width="1.4"/>
<circle cx="181.80" cy="310.60" r="3.5" fill="#d41e1a" stroke="#000" stroke-width="1.4"/>
<path d="M307.20 277.15L310.35 280.30L307.20 283.45L304.05 280.30Z" fill="#3f7fd2" stroke="#000" stroke-width="1.4"/>
<path d="M322.70 284.05L325.85 287.20L322.70 290.35L319.55 287.20Z" fill="#3f7fd2" stroke="#000" stroke-width="1.4"/>
<path d="M345.70 270.25L348.85 273.40L345.70 276.55L342.55 273.40Z" fill="#3f7fd2" stroke="#000" stroke-width="1.4"/>
<path d="M349.30 241.35L352.45 244.50L349.30 247.65L346.15 244.50Z" fill="#3f7fd2" stroke="#000" stroke-width="1.4"/>
<path d="M360.80 254.15L363.95 257.30L360.80 260.45L357.65 257.30Z" fill="#3f7fd2" stroke="#000" stroke-width="1.4"/>
<path d="M372.90 252.45L376.05 255.60L372.90 258.75L369.75 255.60Z" fill="#3f7fd2" stroke="#000" stroke-width="1.4"/>
<path d="M373.90 243.25L377.05 246.40L373.90 249.55L370.75 246.40Z" fill="#3f7fd2" stroke="#000" stroke-width="1.4"/>
<path d="M387.10 239.35L390.25 242.50L387.10 245.65L383.95 242.50Z" fill="#3f7fd2" stroke="#000" stroke-width="1.4"/>
<path d="M394.30 240.65L397.45 243.80L394.30 246.95L391.15 243.80Z" fill="#3f7fd2" stroke="#000" stroke-width="1.4"/>
<path d="M389.70 251.15L392.85 254.30L389.70 257.45L386.55 254.30Z" fill="#3f7fd2" stroke="#000" stroke-width="1.4"/>
<rect x="399.65" y="248.05" width="5.90" height="5.90" fill="#bcd0ee" stroke="#000" stroke-width="1.4"/>
<rect x="384.15" y="258.55" width="5.90" height="5.90" fill="#bcd0ee" stroke="#000" stroke-width="1.4"/>
<rect x="390.05" y="265.15" width="5.90" height="5.90" fill="#bcd0ee" stroke="#000" stroke-width="1.4"/>
<circle cx="364.50" cy="296.90" r="3.5" fill="#f2f22a" stroke="#000" stroke-width="1.4"/>
<circle cx="362.10" cy="308.60" r="3.5" fill="#f2f22a" stroke="#000" stroke-width="1.4"/>
<circle cx="398.30" cy="286.40" r="3.5" fill="#f2f22a" stroke="#000" stroke-width="1.4"/>
<circle cx="392.70" cy="299.90" r="3.5" fill="#f2f22a" stroke="#000" stroke-width="1.4"/>
<circle cx="418.90" cy="268.00" r="3.5" fill="#f2f22a" stroke="#000" stroke-width="1.4"/>
<circle cx="426.10" cy="277.90" r="3.5" fill="#f2f22a" stroke="#000" stroke-width="1.4"/>
<circle cx="415.30" cy="285.30" r="3.5" fill="#f2f22a" stroke="#000" stroke-width="1.4"/>
<circle cx="415.80" cy="291.70" r="3.5" fill="#f2f22a" stroke="#000" stroke-width="1.4"/>
<circle cx="425.00" cy="297.30" r="3.5" fill="#f2f22a" stroke="#000" stroke-width="1.4"/>
<path d="M350.80 334.75L354.25 340.85L347.35 340.85Z" fill="#e8b52c" stroke="#000" stroke-width="1.4"/>
<path d="M355.10 337.95L358.55 344.05L351.65 344.05Z" fill="#e8b52c" stroke="#000" stroke-width="1.4"/>
<path d="M356.60 348.75L360.05 354.85L353.15 354.85Z" fill="#e8b52c" stroke="#000" stroke-width="1.4"/>
<path d="M389.00 306.15L392.45 312.25L385.55 312.25Z" fill="#e8b52c" stroke="#000" stroke-width="1.4"/>
<path d="M389.00 313.35L392.45 319.45L385.55 319.45Z" fill="#e8b52c" stroke="#000" stroke-width="1.4"/>
<path d="M391.30 316.65L394.75 322.75L387.85 322.75Z" fill="#e8b52c" stroke="#000" stroke-width="1.4"/>
<path d="M394.20 317.85L397.65 323.95L390.75 323.95Z" fill="#e8b52c" stroke="#000" stroke-width="1.4"/>
<path d="M393.60 300.35L397.05 306.45L390.15 306.45Z" fill="#e8b52c" stroke="#000" stroke-width="1.4"/>
<path d="M438.80 270.75L442.25 276.85L435.35 276.85Z" fill="#e8b52c" stroke="#000" stroke-width="1.4"/>
<path d="M440.90 278.45L444.35 284.55L437.45 284.55Z" fill="#e8b52c" stroke="#000" stroke-width="1.4"/>
<path d="M429.60 284.05L433.05 290.15L426.15 290.15Z" fill="#e8b52c" stroke="#000" stroke-width="1.4"/>
<path d="M436.00 285.55L439.45 291.65L432.55 291.65Z" fill="#e8b52c" stroke="#000" stroke-width="1.4"/>
<path d="M429.10 290.65L432.55 296.75L425.65 296.75Z" fill="#e8b52c" stroke="#000" stroke-width="1.4"/>
<path d="M430.70 294.25L434.15 300.35L427.25 300.35Z" fill="#e8b52c" stroke="#000" stroke-width="1.4"/>
<path d="M431.20 298.85L434.65 304.95L427.75 304.95Z" fill="#e8b52c" stroke="#000" stroke-width="1.4"/>
<path d="M429.80 300.85L433.25 306.95L426.35 306.95Z" fill="#e8b52c" stroke="#000" stroke-width="1.4"/>
<path d="M439.30 291.65L442.75 297.75L435.85 297.75Z" fill="#e8b52c" stroke="#000" stroke-width="1.4"/>
<path d="M412.30 309.55L415.75 315.65L408.85 315.65Z" fill="#e8b52c" stroke="#000" stroke-width="1.4"/>
<path d="M416.40 310.05L419.85 316.15L412.95 316.15Z" fill="#e8b52c" stroke="#000" stroke-width="1.4"/>
<path d="M419.40 305.95L422.85 312.05L415.95 312.05Z" fill="#e8b52c" stroke="#000" stroke-width="1.4"/>
<path d="M418.40 313.65L421.85 319.75L414.95 319.75Z" fill="#e8b52c" stroke="#000" stroke-width="1.4"/>
<path d="M428.10 311.65L431.55 317.75L424.65 317.75Z" fill="#e8b52c" stroke="#000" stroke-width="1.4"/>
<path d="M443.40 316.75L446.85 322.85L439.95 322.85Z" fill="#e8b52c" stroke="#000" stroke-width="1.4"/>
<circle cx="400.00" cy="330.50" r="3.5" fill="#d41e1a" stroke="#000" stroke-width="1.4"/>
<circle cx="402.40" cy="338.40" r="3.5" fill="#d41e1a" stroke="#000" stroke-width="1.4"/>
<circle cx="425.50" cy="320.80" r="3.5" fill="#d41e1a" stroke="#000" stroke-width="1.4"/>
<circle cx="425.00" cy="324.90" r="3.5" fill="#d41e1a" stroke="#000" stroke-width="1.4"/>
<circle cx="429.60" cy="318.20" r="3.5" fill="#d41e1a" stroke="#000" stroke-width="1.4"/>
<circle cx="442.90" cy="293.20" r="3.5" fill="#d41e1a" stroke="#000" stroke-width="1.4"/>
<circle cx="445.00" cy="305.50" r="3.5" fill="#d41e1a" stroke="#000" stroke-width="1.4"/>
<circle cx="443.40" cy="309.00" r="3.5" fill="#d41e1a" stroke="#000" stroke-width="1.4"/>
<circle cx="452.10" cy="309.00" r="3.5" fill="#d41e1a" stroke="#000" stroke-width="1.4"/>
<circle cx="455.20" cy="307.00" r="3.5" fill="#d41e1a" stroke="#000" stroke-width="1.4"/>
<path d="M527.60 236.05L530.75 239.20L527.60 242.35L524.45 239.20Z" fill="#3f7fd2" stroke="#000" stroke-width="1.4"/>
<path d="M542.80 251.65L545.95 254.80L542.80 257.95L539.65 254.80Z" fill="#3f7fd2" stroke="#000" stroke-width="1.4"/>
<path d="M569.30 244.25L572.45 247.40L569.30 250.55L566.15 247.40Z" fill="#3f7fd2" stroke="#000" stroke-width="1.4"/>
<path d="M565.50 255.75L568.65 258.90L565.50 262.05L562.35 258.90Z" fill="#3f7fd2" stroke="#000" stroke-width="1.4"/>
<path d="M580.70 246.35L583.85 249.50L580.70 252.65L577.55 249.50Z" fill="#3f7fd2" stroke="#000" stroke-width="1.4"/>
<path d="M594.00 273.25L597.15 276.40L594.00 279.55L590.85 276.40Z" fill="#3f7fd2" stroke="#000" stroke-width="1.4"/>
<path d="M592.60 278.85L595.75 282.00L592.60 285.15L589.45 282.00Z" fill="#3f7fd2" stroke="#000" stroke-width="1.4"/>
<path d="M605.80 291.45L608.95 294.60L605.80 297.75L602.65 294.60Z" fill="#3f7fd2" stroke="#000" stroke-width="1.4"/>
<path d="M609.30 297.85L612.45 301.00L609.30 304.15L606.15 301.00Z" fill="#3f7fd2" stroke="#000" stroke-width="1.4"/>
<path d="M613.40 296.75L616.55 299.90L613.40 303.05L610.25 299.90Z" fill="#3f7fd2" stroke="#000" stroke-width="1.4"/>
<path d="M606.70 291.85L609.85 295.00L606.70 298.15L603.55 295.00Z" fill="#3f7fd2" stroke="#000" stroke-width="1.4"/>
<path d="M610.20 297.15L613.35 300.30L610.20 303.45L607.05 300.30Z" fill="#3f7fd2" stroke="#000" stroke-width="1.4"/>
<rect x="603.75" y="276.35" width="5.90" height="5.90" fill="#bcd0ee" stroke="#000" stroke-width="1.4"/>
<rect x="619.35" y="296.55" width="5.90" height="5.90" fill="#bcd0ee" stroke="#000" stroke-width="1.4"/>
<circle cx="584.50" cy="248.90" r="3.5" fill="#f2f22a" stroke="#000" stroke-width="1.4"/>
<circle cx="582.50" cy="261.20" r="3.5" fill="#f2f22a" stroke="#000" stroke-width="1.4"/>
<circle cx="618.40" cy="280.40" r="3.5" fill="#f2f22a" stroke="#000" stroke-width="1.4"/>
<circle cx="613.10" cy="286.30" r="3.5" fill="#f2f22a" stroke="#000" stroke-width="1.4"/>
<circle cx="618.20" cy="285.70" r="3.5" fill="#f2f22a" stroke="#000" stroke-width="1.4"/>
<circle cx="611.70" cy="286.40" r="3.5" fill="#f2f22a" stroke="#000" stroke-width="1.4"/>
<circle cx="619.30" cy="281.20" r="3.5" fill="#f2f22a" stroke="#000" stroke-width="1.4"/>
<circle cx="633.30" cy="306.90" r="3.5" fill="#f2f22a" stroke="#000" stroke-width="1.4"/>
<circle cx="635.00" cy="311.00" r="3.5" fill="#f2f22a" stroke="#000" stroke-width="1.4"/>
<circle cx="639.70" cy="315.00" r="3.5" fill="#f2f22a" stroke="#000" stroke-width="1.4"/>
<circle cx="646.10" cy="313.90" r="3.5" fill="#f2f22a" stroke="#000" stroke-width="1.4"/>
<circle cx="645.00" cy="318.50" r="3.5" fill="#f2f22a" stroke="#000" stroke-width="1.4"/>
<circle cx="634.70" cy="306.70" r="3.5" fill="#f2f22a" stroke="#000" stroke-width="1.4"/>
<circle cx="635.90" cy="311.40" r="3.5" fill="#f2f22a" stroke="#000" stroke-width="1.4"/>
<path d="M570.20 259.35L573.65 265.45L566.75 265.45Z" fill="#e8b52c" stroke="#000" stroke-width="1.4"/>
<path d="M576.50 280.35L579.95 286.45L573.05 286.45Z" fill="#e8b52c" stroke="#000" stroke-width="1.4"/>
<path d="M575.00 296.95L578.45 303.05L571.55 303.05Z" fill="#e8b52c" stroke="#000" stroke-width="1.4"/>
<path d="M608.80 272.15L612.25 278.25L605.35 278.25Z" fill="#e8b52c" stroke="#000" stroke-width="1.4"/>
<path d="M613.50 270.95L616.95 277.05L610.05 277.05Z" fill="#e8b52c" stroke="#000" stroke-width="1.4"/>
<path d="M608.80 291.45L612.25 297.55L605.35 297.55Z" fill="#e8b52c" stroke="#000" stroke-width="1.4"/>
<path d="M613.70 301.95L617.15 308.05L610.25 308.05Z" fill="#e8b52c" stroke="#000" stroke-width="1.4"/>
<path d="M638.50 295.05L641.95 301.15L635.05 301.15Z" fill="#e8b52c" stroke="#000" stroke-width="1.4"/>
<path d="M639.70 306.15L643.15 312.25L636.25 312.25Z" fill="#e8b52c" stroke="#000" stroke-width="1.4"/>
<path d="M638.00 314.35L641.45 320.45L634.55 320.45Z" fill="#e8b52c" stroke="#000" stroke-width="1.4"/>
<path d="M651.40 311.95L654.85 318.05L647.95 318.05Z" fill="#e8b52c" stroke="#000" stroke-width="1.4"/>
<path d="M655.80 316.65L659.25 322.75L652.35 322.75Z" fill="#e8b52c" stroke="#000" stroke-width="1.4"/>
<path d="M649.60 320.15L653.05 326.25L646.15 326.25Z" fill="#e8b52c" stroke="#000" stroke-width="1.4"/>
<path d="M649.00 323.65L652.45 329.75L645.55 329.75Z" fill="#e8b52c" stroke="#000" stroke-width="1.4"/>
<path d="M650.20 326.55L653.65 332.65L646.75 332.65Z" fill="#e8b52c" stroke="#000" stroke-width="1.4"/>
<path d="M658.40 324.25L661.85 330.35L654.95 330.35Z" fill="#e8b52c" stroke="#000" stroke-width="1.4"/>
<path d="M660.10 327.75L663.55 333.85L656.65 333.85Z" fill="#e8b52c" stroke="#000" stroke-width="1.4"/>
<path d="M661.90 331.25L665.35 337.35L658.45 337.35Z" fill="#e8b52c" stroke="#000" stroke-width="1.4"/>
<path d="M660.70 335.95L664.15 342.05L657.25 342.05Z" fill="#e8b52c" stroke="#000" stroke-width="1.4"/>
<path d="M663.60 340.05L667.05 346.15L660.15 346.15Z" fill="#e8b52c" stroke="#000" stroke-width="1.4"/>
<circle cx="622.80" cy="290.30" r="3.5" fill="#d41e1a" stroke="#000" stroke-width="1.4"/>
<circle cx="645.00" cy="301.60" r="3.5" fill="#d41e1a" stroke="#000" stroke-width="1.4"/>
<circle cx="645.80" cy="304.50" r="3.5" fill="#d41e1a" stroke="#000" stroke-width="1.4"/>
<circle cx="650.20" cy="310.40" r="3.5" fill="#d41e1a" stroke="#000" stroke-width="1.4"/>
<circle cx="663.60" cy="313.90" r="3.5" fill="#d41e1a" stroke="#000" stroke-width="1.4"/>
<circle cx="663.10" cy="319.70" r="3.5" fill="#d41e1a" stroke="#000" stroke-width="1.4"/>
<circle cx="671.80" cy="329.00" r="3.5" fill="#d41e1a" stroke="#000" stroke-width="1.4"/>
<circle cx="674.70" cy="328.50" r="3.5" fill="#d41e1a" stroke="#000" stroke-width="1.4"/>
<line x1="86.4" y1="334.9" x2="173.9" y2="267.6" stroke="#4a80cc" stroke-width="1.8"/>
<line x1="130.2" y1="328.4" x2="219.6" y2="250.5" stroke="#000000" stroke-width="1.8"/>
<line x1="179.8" y1="317.6" x2="234.1" y2="245.2" stroke="#d82a26" stroke-width="1.8"/>
<line x1="307.2" y1="282.6" x2="393.6" y2="242.1" stroke="#4a80cc" stroke-width="1.8"/>
<line x1="362.7" y1="302.2" x2="425.5" y2="281.4" stroke="#000000" stroke-width="1.8"/>
<line x1="400.1" y1="334.9" x2="454.7" y2="301.7" stroke="#d82a26" stroke-width="1.8"/>
<line x1="527.2" y1="232.6" x2="614.3" y2="294.5" stroke="#4a80cc" stroke-width="1.8"/>
<line x1="581.3" y1="251.9" x2="633.0" y2="306.0" stroke="#000000" stroke-width="1.8"/>
<line x1="622.8" y1="290.5" x2="674.7" y2="326.1" stroke="#d82a26" stroke-width="1.8"/>
<path d="M106.30 516.95L109.45 520.10L106.30 523.25L103.15 520.10Z" fill="#67c7b3" stroke="#000" stroke-width="1.4"/>
<path d="M111.80 520.15L114.95 523.30L111.80 526.45L108.65 523.30Z" fill="#67c7b3" stroke="#000" stroke-width="1.4"/>
<path d="M118.00 509.65L121.15 512.80L118.00 515.95L114.85 512.80Z" fill="#67c7b3" stroke="#000" stroke-width="1.4"/>
<path d="M120.60 512.75L123.75 515.90L120.60 519.05L117.45 515.90Z" fill="#67c7b3" stroke="#000" stroke-width="1.4"/>
<path d="M123.80 510.25L126.95 513.40L123.80 516.55L120.65 513.40Z" fill="#67c7b3" stroke="#000" stroke-width="1.4"/>
<path d="M139.60 489.75L142.75 492.90L139.60 496.05L136.45 492.90Z" fill="#67c7b3" stroke="#000" stroke-width="1.4"/>
<path d="M147.30 500.85L150.45 504.00L147.30 507.15L144.15 504.00Z" fill="#67c7b3" stroke="#000" stroke-width="1.4"/>
<path d="M144.80 508.15L147.95 511.30L144.80 514.45L141.65 511.30Z" fill="#67c7b3" stroke="#000" stroke-width="1.4"/>
<path d="M165.30 482.35L168.45 485.50L165.30 488.65L162.15 485.50Z" fill="#67c7b3" stroke="#000" stroke-width="1.4"/>
<path d="M165.30 487.45L168.45 490.60L165.30 493.75L162.15 490.60Z" fill="#67c7b3" stroke="#000" stroke-width="1.4"/>
<path d="M164.70 490.45L167.85 493.60L164.70 496.75L161.55 493.60Z" fill="#67c7b3" stroke="#000" stroke-width="1.4"/>
<path d="M183.10 453.25L186.25 456.40L183.10 459.55L179.95 456.40Z" fill="#67c7b3" stroke="#000" stroke-width="1.4"/>
<path d="M181.60 457.25L184.75 460.40L181.60 463.55L178.45 460.40Z" fill="#67c7b3" stroke="#000" stroke-width="1.4"/>
<path d="M181.80 462.05L184.95 465.20L181.80 468.35L178.65 465.20Z" fill="#67c7b3" stroke="#000" stroke-width="1.4"/>
<path d="M183.60 464.05L186.75 467.20L183.60 470.35L180.45 467.20Z" fill="#67c7b3" stroke="#000" stroke-width="1.4"/>
<circle cx="116.20" cy="537.30" r="3.5" fill="#ffffff" stroke="#000" stroke-width="1.4"/>
<circle cx="123.80" cy="535.00" r="3.5" fill="#ffffff" stroke="#000" stroke-width="1.4"/>
<circle cx="127.00" cy="533.80" r="3.5" fill="#ffffff" stroke="#000" stroke-width="1.4"/>
<circle cx="129.60" cy="536.10" r="3.5" fill="#ffffff" stroke="#000" stroke-width="1.4"/>
<circle cx="148.30" cy="531.50" r="3.5" fill="#ffffff" stroke="#000" stroke-width="1.4"/>
<circle cx="151.80" cy="516.30" r="3.5" fill="#ffffff" stroke="#000" stroke-width="1.4"/>
<circle cx="155.70" cy="523.90" r="3.5" fill="#ffffff" stroke="#000" stroke-width="1.4"/>
<circle cx="157.70" cy="508.70" r="3.5" fill="#ffffff" stroke="#000" stroke-width="1.4"/>
<circle cx="162.70" cy="508.00" r="3.5" fill="#ffffff" stroke="#000" stroke-width="1.4"/>
<circle cx="174.50" cy="489.60" r="3.5" fill="#ffffff" stroke="#000" stroke-width="1.4"/>
<circle cx="175.00" cy="505.40" r="3.5" fill="#ffffff" stroke="#000" stroke-width="1.4"/>
<circle cx="192.40" cy="462.20" r="3.5" fill="#ffffff" stroke="#000" stroke-width="1.4"/>
<circle cx="191.10" cy="467.20" r="3.5" fill="#ffffff" stroke="#000" stroke-width="1.4"/>
<circle cx="197.00" cy="468.60" r="3.5" fill="#ffffff" stroke="#000" stroke-width="1.4"/>
<circle cx="193.50" cy="471.40" r="3.5" fill="#ffffff" stroke="#000" stroke-width="1.4"/>
<circle cx="196.40" cy="514.60" r="3.5" fill="#ffffff" stroke="#000" stroke-width="1.4"/>
<path d="M130.00 520.25L133.45 526.35L126.55 526.35Z" fill="#cfae62" stroke="#000" stroke-width="1.4"/>
<path d="M137.80 523.75L141.25 529.85L134.35 529.85Z" fill="#cfae62" stroke="#000" stroke-width="1.4"/>
<path d="M137.00 530.15L140.45 536.25L133.55 536.25Z" fill="#cfae62" stroke="#000" stroke-width="1.4"/>
<path d="M142.50 516.15L145.95 522.25L139.05 522.25Z" fill="#cfae62" stroke="#000" stroke-width="1.4"/>
<path d="M143.60 523.75L147.05 529.85L140.15 529.85Z" fill="#cfae62" stroke="#000" stroke-width="1.4"/>
<path d="M159.70 507.15L163.15 513.25L156.25 513.25Z" fill="#cfae62" stroke="#000" stroke-width="1.4"/>
<path d="M163.20 508.95L166.65 515.05L159.75 515.05Z" fill="#cfae62" stroke="#000" stroke-width="1.4"/>
<path d="M167.80 513.55L171.25 519.65L164.35 519.65Z" fill="#cfae62" stroke="#000" stroke-width="1.4"/>
<path d="M179.70 476.35L183.15 482.45L176.25 482.45Z" fill="#cfae62" stroke="#000" stroke-width="1.4"/>
<path d="M182.80 483.95L186.25 490.05L179.35 490.05Z" fill="#cfae62" stroke="#000" stroke-width="1.4"/>
<path d="M180.20 492.35L183.65 498.45L176.75 498.45Z" fill="#cfae62" stroke="#000" stroke-width="1.4"/>
<path d="M181.60 497.75L185.05 503.85L178.15 503.85Z" fill="#cfae62" stroke="#000" stroke-width="1.4"/>
<path d="M193.90 475.15L197.35 481.25L190.45 481.25Z" fill="#cfae62" stroke="#000" stroke-width="1.4"/>
<path d="M193.90 481.25L197.35 487.35L190.45 487.35Z" fill="#cfae62" stroke="#000" stroke-width="1.4"/>
<path d="M198.20 453.55L201.65 459.65L194.75 459.65Z" fill="#cfae62" stroke="#000" stroke-width="1.4"/>
<path d="M199.00 443.45L202.45 449.55L195.55 449.55Z" fill="#cfae62" stroke="#000" stroke-width="1.4"/>
<path d="M200.70 460.35L204.15 466.45L197.25 466.45Z" fill="#cfae62" stroke="#000" stroke-width="1.4"/>
<path d="M199.60 469.85L203.05 475.95L196.15 475.95Z" fill="#cfae62" stroke="#000" stroke-width="1.4"/>
<path d="M195.40 506.45L198.85 512.55L191.95 512.55Z" fill="#cfae62" stroke="#000" stroke-width="1.4"/>
<circle cx="99.30" cy="520.10" r="2.05" fill="#000"/>
<circle cx="101.00" cy="536.10" r="2.05" fill="#000"/>
<circle cx="94.20" cy="543.70" r="2.05" fill="#000"/>
<circle cx="139.70" cy="515.30" r="2.05" fill="#000"/>
<circle cx="145.40" cy="510.40" r="2.05" fill="#000"/>
<circle cx="139.00" cy="529.70" r="2.05" fill="#000"/>
<circle cx="144.80" cy="527.40" r="2.05" fill="#000"/>
<circle cx="187.70" cy="482.90" r="2.05" fill="#000"/>
<circle cx="185.70" cy="494.70" r="2.05" fill="#000"/>
<circle cx="167.80" cy="504.40" r="2.05" fill="#000"/>
<circle cx="172.40" cy="502.80" r="2.05" fill="#000"/>
<circle cx="175.00" cy="513.10" r="2.05" fill="#000"/>
<circle cx="176.50" cy="492.10" r="2.05" fill="#000"/>
<circle cx="177.00" cy="500.30" r="2.05" fill="#000"/>
<circle cx="204.80" cy="453.00" r="2.05" fill="#000"/>
<circle cx="204.80" cy="455.80" r="2.05" fill="#000"/>
<circle cx="203.40" cy="466.20" r="2.05" fill="#000"/>
<circle cx="189.50" cy="470.00" r="2.05" fill="#000"/>
<circle cx="190.50" cy="472.50" r="2.05" fill="#000"/>
<path d="M327.10 464.15L330.25 467.30L327.10 470.45L323.95 467.30Z" fill="#67c7b3" stroke="#000" stroke-width="1.4"/>
<path d="M332.70 458.25L335.85 461.40L332.70 464.55L329.55 461.40Z" fill="#67c7b3" stroke="#000" stroke-width="1.4"/>
<path d="M339.10 466.15L342.25 469.30L339.10 472.45L335.95 469.30Z" fill="#67c7b3" stroke="#000" stroke-width="1.4"/>
<path d="M341.50 465.75L344.65 468.90L341.50 472.05L338.35 468.90Z" fill="#67c7b3" stroke="#000" stroke-width="1.4"/>
<path d="M343.80 474.85L346.95 478.00L343.80 481.15L340.65 478.00Z" fill="#67c7b3" stroke="#000" stroke-width="1.4"/>
<path d="M360.10 455.95L363.25 459.10L360.10 462.25L356.95 459.10Z" fill="#67c7b3" stroke="#000" stroke-width="1.4"/>
<path d="M365.20 457.35L368.35 460.50L365.20 463.65L362.05 460.50Z" fill="#67c7b3" stroke="#000" stroke-width="1.4"/>
<path d="M367.50 462.65L370.65 465.80L367.50 468.95L364.35 465.80Z" fill="#67c7b3" stroke="#000" stroke-width="1.4"/>
<path d="M385.50 426.15L388.65 429.30L385.50 432.45L382.35 429.30Z" fill="#67c7b3" stroke="#000" stroke-width="1.4"/>
<path d="M385.50 433.25L388.65 436.40L385.50 439.55L382.35 436.40Z" fill="#67c7b3" stroke="#000" stroke-width="1.4"/>
<path d="M384.80 441.35L387.95 444.50L384.80 447.65L381.65 444.50Z" fill="#67c7b3" stroke="#000" stroke-width="1.4"/>
<path d="M384.80 452.15L387.95 455.30L384.80 458.45L381.65 455.30Z" fill="#67c7b3" stroke="#000" stroke-width="1.4"/>
<path d="M401.30 437.25L404.45 440.40L401.30 443.55L398.15 440.40Z" fill="#67c7b3" stroke="#000" stroke-width="1.4"/>
<path d="M402.70 446.65L405.85 449.80L402.70 452.95L399.55 449.80Z" fill="#67c7b3" stroke="#000" stroke-width="1.4"/>
<path d="M400.90 448.95L404.05 452.10L400.90 455.25L397.75 452.10Z" fill="#67c7b3" stroke="#000" stroke-width="1.4"/>
<path d="M402.70 463.55L405.85 466.70L402.70 469.85L399.55 466.70Z" fill="#67c7b3" stroke="#000" stroke-width="1.4"/>
<circle cx="337.40" cy="491.50" r="3.5" fill="#ffffff" stroke="#000" stroke-width="1.4"/>
<circle cx="344.10" cy="497.90" r="3.5" fill="#ffffff" stroke="#000" stroke-width="1.4"/>
<circle cx="347.30" cy="501.40" r="3.5" fill="#ffffff" stroke="#000" stroke-width="1.4"/>
<circle cx="349.60" cy="496.10" r="3.5" fill="#ffffff" stroke="#000" stroke-width="1.4"/>
<circle cx="368.90" cy="488.50" r="3.5" fill="#ffffff" stroke="#000" stroke-width="1.4"/>
<circle cx="371.80" cy="495.50" r="3.5" fill="#ffffff" stroke="#000" stroke-width="1.4"/>
<circle cx="375.30" cy="500.20" r="3.5" fill="#ffffff" stroke="#000" stroke-width="1.4"/>
<circle cx="377.70" cy="497.30" r="3.5" fill="#ffffff" stroke="#000" stroke-width="1.4"/>
<circle cx="382.80" cy="479.20" r="3.5" fill="#ffffff" stroke="#000" stroke-width="1.4"/>
<circle cx="393.40" cy="483.30" r="3.5" fill="#ffffff" stroke="#000" stroke-width="1.4"/>
<circle cx="394.50" cy="494.50" r="3.5" fill="#ffffff" stroke="#000" stroke-width="1.4"/>
<circle cx="401.50" cy="493.40" r="3.5" fill="#ffffff" stroke="#000" stroke-width="1.4"/>
<circle cx="394.50" cy="500.60" r="3.5" fill="#ffffff" stroke="#000" stroke-width="1.4"/>
<circle cx="415.00" cy="491.00" r="3.5" fill="#ffffff" stroke="#000" stroke-width="1.4"/>
<circle cx="416.70" cy="494.30" r="3.5" fill="#ffffff" stroke="#000" stroke-width="1.4"/>
<circle cx="410.90" cy="500.60" r="3.5" fill="#ffffff" stroke="#000" stroke-width="1.4"/>
<path d="M350.50 497.45L353.95 503.55L347.05 503.55Z" fill="#cfae62" stroke="#000" stroke-width="1.4"/>
<path d="M357.20 497.15L360.65 503.25L353.75 503.25Z" fill="#cfae62" stroke="#000" stroke-width="1.4"/>
<path d="M362.80 499.55L366.25 505.65L359.35 505.65Z" fill="#cfae62" stroke="#000" stroke-width="1.4"/>
<path d="M358.20 507.95L361.65 514.05L354.75 514.05Z" fill="#cfae62" stroke="#000" stroke-width="1.4"/>
<path d="M364.20 521.15L367.65 527.25L360.75 527.25Z" fill="#cfae62" stroke="#000" stroke-width="1.4"/>
<path d="M379.40 509.15L382.85 515.25L375.95 515.25Z" fill="#cfae62" stroke="#000" stroke-width="1.4"/>
<path d="M382.80 514.25L386.25 520.35L379.35 520.35Z" fill="#cfae62" stroke="#000" stroke-width="1.4"/>
<path d="M387.50 513.05L390.95 519.15L384.05 519.15Z" fill="#cfae62" stroke="#000" stroke-width="1.4"/>
<path d="M386.90 510.75L390.35 516.85L383.45 516.85Z" fill="#cfae62" stroke="#000" stroke-width="1.4"/>
<path d="M399.80 493.25L403.25 499.35L396.35 499.35Z" fill="#cfae62" stroke="#000" stroke-width="1.4"/>
<path d="M399.80 503.15L403.25 509.25L396.35 509.25Z" fill="#cfae62" stroke="#000" stroke-width="1.4"/>
<path d="M417.30 496.75L420.75 502.85L413.85 502.85Z" fill="#cfae62" stroke="#000" stroke-width="1.4"/>
<path d="M413.40 504.95L416.85 511.05L409.95 511.05Z" fill="#cfae62" stroke="#000" stroke-width="1.4"/>
<path d="M415.00 515.05L418.45 521.15L411.55 521.15Z" fill="#cfae62" stroke="#000" stroke-width="1.4"/>
<path d="M419.00 479.25L422.45 485.35L415.55 485.35Z" fill="#cfae62" stroke="#000" stroke-width="1.4"/>
<path d="M402.70 457.85L406.15 463.95L399.25 463.95Z" fill="#cfae62" stroke="#000" stroke-width="1.4"/>
<circle cx="315.20" cy="522.60" r="2.05" fill="#000"/>
<circle cx="320.80" cy="524.50" r="2.05" fill="#000"/>
<circle cx="322.20" cy="529.40" r="2.05" fill="#000"/>
<circle cx="364.80" cy="501.40" r="2.05" fill="#000"/>
<circle cx="360.10" cy="508.40" r="2.05" fill="#000"/>
<circle cx="366.30" cy="512.80" r="2.05" fill="#000"/>
<circle cx="388.10" cy="508.00" r="2.05" fill="#000"/>
<circle cx="392.80" cy="507.40" r="2.05" fill="#000"/>
<circle cx="394.50" cy="509.70" r="2.05" fill="#000"/>
<circle cx="405.00" cy="510.30" r="2.05" fill="#000"/>
<circle cx="407.40" cy="497.40" r="2.05" fill="#000"/>
<circle cx="423.70" cy="510.90" r="2.05" fill="#000"/>
<circle cx="423.70" cy="512.50" r="2.05" fill="#000"/>
<circle cx="420.20" cy="488.70" r="2.05" fill="#000"/>
<circle cx="421.40" cy="505.00" r="2.05" fill="#000"/>
<circle cx="408.50" cy="510.90" r="2.05" fill="#000"/>
<circle cx="418.30" cy="480.60" r="2.05" fill="#000"/>
<circle cx="419.80" cy="483.60" r="2.05" fill="#000"/>
<circle cx="418.60" cy="484.20" r="2.05" fill="#000"/>
<circle cx="404.50" cy="498.00" r="2.05" fill="#000"/>
<circle cx="406.00" cy="500.50" r="2.05" fill="#000"/>
<circle cx="401.00" cy="509.00" r="2.05" fill="#000"/>
<circle cx="398.00" cy="511.00" r="2.05" fill="#000"/>
<circle cx="409.50" cy="509.00" r="2.05" fill="#000"/>
<circle cx="420.50" cy="503.00" r="2.05" fill="#000"/>
<circle cx="419.00" cy="507.00" r="2.05" fill="#000"/>
<circle cx="396.50" cy="508.50" r="2.05" fill="#000"/>
<path d="M545.90 440.55L549.05 443.70L545.90 446.85L542.75 443.70Z" fill="#67c7b3" stroke="#000" stroke-width="1.4"/>
<path d="M551.30 437.65L554.45 440.80L551.30 443.95L548.15 440.80Z" fill="#67c7b3" stroke="#000" stroke-width="1.4"/>
<path d="M557.40 461.55L560.55 464.70L557.40 467.85L554.25 464.70Z" fill="#67c7b3" stroke="#000" stroke-width="1.4"/>
<path d="M560.00 459.45L563.15 462.60L560.00 465.75L556.85 462.60Z" fill="#67c7b3" stroke="#000" stroke-width="1.4"/>
<path d="M563.00 462.15L566.15 465.30L563.00 468.45L559.85 465.30Z" fill="#67c7b3" stroke="#000" stroke-width="1.4"/>
<path d="M583.60 457.15L586.75 460.30L583.60 463.45L580.45 460.30Z" fill="#67c7b3" stroke="#000" stroke-width="1.4"/>
<path d="M586.00 467.65L589.15 470.80L586.00 473.95L582.85 470.80Z" fill="#67c7b3" stroke="#000" stroke-width="1.4"/>
<path d="M577.50 481.45L580.65 484.60L577.50 487.75L574.35 484.60Z" fill="#67c7b3" stroke="#000" stroke-width="1.4"/>
<path d="M603.90 462.95L607.05 466.10L603.90 469.25L600.75 466.10Z" fill="#67c7b3" stroke="#000" stroke-width="1.4"/>
<path d="M603.90 474.05L607.05 477.20L603.90 480.35L600.75 477.20Z" fill="#67c7b3" stroke="#000" stroke-width="1.4"/>
<path d="M604.50 476.95L607.65 480.10L604.50 483.25L601.35 480.10Z" fill="#67c7b3" stroke="#000" stroke-width="1.4"/>
<path d="M621.50 510.85L624.65 514.00L621.50 517.15L618.35 514.00Z" fill="#67c7b3" stroke="#000" stroke-width="1.4"/>
<circle cx="556.00" cy="433.40" r="3.5" fill="#ffffff" stroke="#000" stroke-width="1.4"/>
<circle cx="568.50" cy="441.70" r="3.5" fill="#ffffff" stroke="#000" stroke-width="1.4"/>
<circle cx="562.60" cy="444.30" r="3.5" fill="#ffffff" stroke="#000" stroke-width="1.4"/>
<circle cx="566.10" cy="449.80" r="3.5" fill="#ffffff" stroke="#000" stroke-width="1.4"/>
<circle cx="587.50" cy="437.80" r="3.5" fill="#ffffff" stroke="#000" stroke-width="1.4"/>
<circle cx="594.40" cy="467.60" r="3.5" fill="#ffffff" stroke="#000" stroke-width="1.4"/>
<circle cx="590.70" cy="477.00" r="3.5" fill="#ffffff" stroke="#000" stroke-width="1.4"/>
<circle cx="595.70" cy="484.40" r="3.5" fill="#ffffff" stroke="#000" stroke-width="1.4"/>
<circle cx="597.40" cy="487.90" r="3.5" fill="#ffffff" stroke="#000" stroke-width="1.4"/>
<circle cx="601.60" cy="474.90" r="3.5" fill="#ffffff" stroke="#000" stroke-width="1.4"/>
<circle cx="613.90" cy="491.80" r="3.5" fill="#ffffff" stroke="#000" stroke-width="1.4"/>
<circle cx="611.50" cy="499.40" r="3.5" fill="#ffffff" stroke="#000" stroke-width="1.4"/>
<circle cx="619.70" cy="501.10" r="3.5" fill="#ffffff" stroke="#000" stroke-width="1.4"/>
<circle cx="612.50" cy="509.30" r="3.5" fill="#ffffff" stroke="#000" stroke-width="1.4"/>
<circle cx="617.10" cy="519.80" r="3.5" fill="#ffffff" stroke="#000" stroke-width="1.4"/>
<circle cx="634.70" cy="485.10" r="3.5" fill="#ffffff" stroke="#000" stroke-width="1.4"/>
<circle cx="629.50" cy="530.20" r="3.5" fill="#ffffff" stroke="#000" stroke-width="1.4"/>
<circle cx="630.10" cy="534.00" r="3.5" fill="#ffffff" stroke="#000" stroke-width="1.4"/>
<path d="M575.80 449.05L579.25 455.15L572.35 455.15Z" fill="#cfae62" stroke="#000" stroke-width="1.4"/>
<path d="M569.00 472.15L572.45 478.25L565.55 478.25Z" fill="#cfae62" stroke="#000" stroke-width="1.4"/>
<path d="M577.00 477.75L580.45 483.85L573.55 483.85Z" fill="#cfae62" stroke="#000" stroke-width="1.4"/>
<path d="M581.90 482.65L585.35 488.75L578.45 488.75Z" fill="#cfae62" stroke="#000" stroke-width="1.4"/>
<path d="M598.70 495.15L602.15 501.25L595.25 501.25Z" fill="#cfae62" stroke="#000" stroke-width="1.4"/>
<path d="M601.60 497.45L605.05 503.55L598.15 503.55Z" fill="#cfae62" stroke="#000" stroke-width="1.4"/>
<path d="M605.10 493.95L608.55 500.05L601.65 500.05Z" fill="#cfae62" stroke="#000" stroke-width="1.4"/>
<path d="M606.30 487.55L609.75 493.65L602.85 493.65Z" fill="#cfae62" stroke="#000" stroke-width="1.4"/>
<path d="M621.10 489.35L624.55 495.45L617.65 495.45Z" fill="#cfae62" stroke="#000" stroke-width="1.4"/>
<path d="M618.50 502.75L621.95 508.85L615.05 508.85Z" fill="#cfae62" stroke="#000" stroke-width="1.4"/>
<path d="M618.20 512.25L621.65 518.35L614.75 518.35Z" fill="#cfae62" stroke="#000" stroke-width="1.4"/>
<path d="M618.20 522.65L621.65 528.75L614.75 528.75Z" fill="#cfae62" stroke="#000" stroke-width="1.4"/>
<path d="M633.70 497.35L637.15 503.45L630.25 503.45Z" fill="#cfae62" stroke="#000" stroke-width="1.4"/>
<path d="M637.50 507.15L640.95 513.25L634.05 513.25Z" fill="#cfae62" stroke="#000" stroke-width="1.4"/>
<path d="M632.30 520.65L635.75 526.75L628.85 526.75Z" fill="#cfae62" stroke="#000" stroke-width="1.4"/>
<path d="M637.70 520.45L641.15 526.55L634.25 526.55Z" fill="#cfae62" stroke="#000" stroke-width="1.4"/>
<path d="M638.50 530.45L641.95 536.55L635.05 536.55Z" fill="#cfae62" stroke="#000" stroke-width="1.4"/>
<path d="M635.80 533.95L639.25 540.05L632.35 540.05Z" fill="#cfae62" stroke="#000" stroke-width="1.4"/>
<circle cx="534.20" cy="437.00" r="2.05" fill="#000"/>
<circle cx="540.80" cy="464.70" r="2.05" fill="#000"/>
<circle cx="539.00" cy="488.10" r="2.05" fill="#000"/>
<circle cx="583.60" cy="452.20" r="2.05" fill="#000"/>
<circle cx="579.00" cy="453.60" r="2.05" fill="#000"/>
<circle cx="581.00" cy="476.40" r="2.05" fill="#000"/>
<circle cx="584.80" cy="491.80" r="2.05" fill="#000"/>
<circle cx="613.90" cy="484.80" r="2.05" fill="#000"/>
<circle cx="625.00" cy="497.60" r="2.05" fill="#000"/>
<circle cx="626.10" cy="515.70" r="2.05" fill="#000"/>
<circle cx="625.50" cy="520.40" r="2.05" fill="#000"/>
<circle cx="627.30" cy="525.10" r="2.05" fill="#000"/>
<circle cx="624.40" cy="508.70" r="2.05" fill="#000"/>
<circle cx="606.90" cy="495.30" r="2.05" fill="#000"/>
<circle cx="610.40" cy="498.20" r="2.05" fill="#000"/>
<circle cx="615.00" cy="498.20" r="2.05" fill="#000"/>
<circle cx="640.70" cy="525.10" r="2.05" fill="#000"/>
<circle cx="640.70" cy="531.50" r="2.05" fill="#000"/>
<circle cx="642.40" cy="542.70" r="2.05" fill="#000"/>
<circle cx="642.40" cy="541.00" r="2.05" fill="#000"/>
<circle cx="640.20" cy="535.30" r="2.05" fill="#000"/>
<circle cx="631.00" cy="520.80" r="2.05" fill="#000"/>
<circle cx="637.20" cy="520.40" r="2.05" fill="#000"/>
<path d="M144.70 684.15L147.85 687.30L144.70 690.45L141.55 687.30Z" fill="#67c7b3" stroke="#000" stroke-width="1.4"/>
<path d="M158.00 702.85L161.15 706.00L158.00 709.15L154.85 706.00Z" fill="#67c7b3" stroke="#000" stroke-width="1.4"/>
<path d="M175.10 682.25L178.25 685.40L175.10 688.55L171.95 685.40Z" fill="#67c7b3" stroke="#000" stroke-width="1.4"/>
<path d="M132.90 704.35L136.05 707.50L132.90 710.65L129.75 707.50Z" fill="#67c7b3" stroke="#000" stroke-width="1.4"/>
<path d="M136.40 707.45L139.55 710.60L136.40 713.75L133.25 710.60Z" fill="#67c7b3" stroke="#000" stroke-width="1.4"/>
<path d="M140.60 705.35L143.75 708.50L140.60 711.65L137.45 708.50Z" fill="#67c7b3" stroke="#000" stroke-width="1.4"/>
<path d="M150.20 695.55L153.35 698.70L150.20 701.85L147.05 698.70Z" fill="#67c7b3" stroke="#000" stroke-width="1.4"/>
<path d="M206.70 647.85L209.85 651.00L206.70 654.15L203.55 651.00Z" fill="#67c7b3" stroke="#000" stroke-width="1.4"/>
<path d="M208.90 656.95L212.05 660.10L208.90 663.25L205.75 660.10Z" fill="#67c7b3" stroke="#000" stroke-width="1.4"/>
<circle cx="126.60" cy="732.30" r="3.5" fill="#ffffff" stroke="#000" stroke-width="1.4"/>
<circle cx="130.90" cy="727.10" r="3.5" fill="#ffffff" stroke="#000" stroke-width="1.4"/>
<circle cx="147.30" cy="719.20" r="3.5" fill="#ffffff" stroke="#000" stroke-width="1.4"/>
<circle cx="145.20" cy="710.80" r="3.5" fill="#ffffff" stroke="#000" stroke-width="1.4"/>
<circle cx="147.20" cy="702.30" r="3.5" fill="#ffffff" stroke="#000" stroke-width="1.4"/>
<circle cx="167.70" cy="678.40" r="3.5" fill="#ffffff" stroke="#000" stroke-width="1.4"/>
<circle cx="169.90" cy="689.80" r="3.5" fill="#ffffff" stroke="#000" stroke-width="1.4"/>
<circle cx="164.20" cy="693.70" r="3.5" fill="#ffffff" stroke="#000" stroke-width="1.4"/>
<circle cx="167.50" cy="700.30" r="3.5" fill="#ffffff" stroke="#000" stroke-width="1.4"/>
<circle cx="197.60" cy="657.20" r="3.5" fill="#ffffff" stroke="#000" stroke-width="1.4"/>
<circle cx="198.10" cy="661.80" r="3.5" fill="#ffffff" stroke="#000" stroke-width="1.4"/>
<circle cx="205.00" cy="663.50" r="3.5" fill="#ffffff" stroke="#000" stroke-width="1.4"/>
<circle cx="206.10" cy="654.40" r="3.5" fill="#ffffff" stroke="#000" stroke-width="1.4"/>
<circle cx="204.40" cy="709.40" r="3.5" fill="#ffffff" stroke="#000" stroke-width="1.4"/>
<path d="M128.60 726.05L132.05 732.15L125.15 732.15Z" fill="#cfae62" stroke="#000" stroke-width="1.4"/>
<path d="M129.20 719.05L132.65 725.15L125.75 725.15Z" fill="#cfae62" stroke="#000" stroke-width="1.4"/>
<path d="M135.00 718.45L138.45 724.55L131.55 724.55Z" fill="#cfae62" stroke="#000" stroke-width="1.4"/>
<path d="M132.90 710.85L136.35 716.95L129.45 716.95Z" fill="#cfae62" stroke="#000" stroke-width="1.4"/>
<path d="M146.20 704.05L149.65 710.15L142.75 710.15Z" fill="#cfae62" stroke="#000" stroke-width="1.4"/>
<path d="M150.70 709.65L154.15 715.75L147.25 715.75Z" fill="#cfae62" stroke="#000" stroke-width="1.4"/>
<path d="M148.00 714.95L151.45 721.05L144.55 721.05Z" fill="#cfae62" stroke="#000" stroke-width="1.4"/>
<path d="M165.90 671.45L169.35 677.55L162.45 677.55Z" fill="#cfae62" stroke="#000" stroke-width="1.4"/>
<path d="M171.20 679.25L174.65 685.35L167.75 685.35Z" fill="#cfae62" stroke="#000" stroke-width="1.4"/>
<path d="M167.20 683.65L170.65 689.75L163.75 689.75Z" fill="#cfae62" stroke="#000" stroke-width="1.4"/>
<path d="M165.00 688.05L168.45 694.15L161.55 694.15Z" fill="#cfae62" stroke="#000" stroke-width="1.4"/>
<path d="M167.50 692.55L170.95 698.65L164.05 698.65Z" fill="#cfae62" stroke="#000" stroke-width="1.4"/>
<path d="M201.50 638.25L204.95 644.35L198.05 644.35Z" fill="#cfae62" stroke="#000" stroke-width="1.4"/>
<path d="M200.60 648.45L204.05 654.55L197.15 654.55Z" fill="#cfae62" stroke="#000" stroke-width="1.4"/>
<path d="M202.70 654.75L206.15 660.85L199.25 660.85Z" fill="#cfae62" stroke="#000" stroke-width="1.4"/>
<path d="M197.00 664.95L200.45 671.05L193.55 671.05Z" fill="#cfae62" stroke="#000" stroke-width="1.4"/>
<path d="M201.30 670.05L204.75 676.15L197.85 676.15Z" fill="#cfae62" stroke="#000" stroke-width="1.4"/>
<path d="M197.20 675.75L200.65 681.85L193.75 681.85Z" fill="#cfae62" stroke="#000" stroke-width="1.4"/>
<path d="M205.50 702.35L208.95 708.45L202.05 708.45Z" fill="#cfae62" stroke="#000" stroke-width="1.4"/>
<circle cx="119.60" cy="714.90" r="2.05" fill="#000"/>
<circle cx="109.90" cy="731.10" r="2.05" fill="#000"/>
<circle cx="120.80" cy="738.80" r="2.05" fill="#000"/>
<circle cx="130.10" cy="705.00" r="2.05" fill="#000"/>
<circle cx="128.00" cy="714.50" r="2.05" fill="#000"/>
<circle cx="153.70" cy="695.80" r="2.05" fill="#000"/>
<circle cx="155.60" cy="686.70" r="2.05" fill="#000"/>
<circle cx="169.20" cy="664.20" r="2.05" fill="#000"/>
<circle cx="174.70" cy="678.40" r="2.05" fill="#000"/>
<circle cx="176.40" cy="688.90" r="2.05" fill="#000"/>
<circle cx="209.70" cy="641.30" r="2.05" fill="#000"/>
<circle cx="211.50" cy="647.60" r="2.05" fill="#000"/>
<circle cx="212.90" cy="651.00" r="2.05" fill="#000"/>
<circle cx="213.50" cy="660.60" r="2.05" fill="#000"/>
<circle cx="210.60" cy="662.90" r="2.05" fill="#000"/>
<path d="M353.50 652.95L356.65 656.10L353.50 659.25L350.35 656.10Z" fill="#67c7b3" stroke="#000" stroke-width="1.4"/>
<path d="M352.30 658.45L355.45 661.60L352.30 664.75L349.15 661.60Z" fill="#67c7b3" stroke="#000" stroke-width="1.4"/>
<path d="M354.00 660.75L357.15 663.90L354.00 667.05L350.85 663.90Z" fill="#67c7b3" stroke="#000" stroke-width="1.4"/>
<path d="M357.80 661.15L360.95 664.30L357.80 667.45L354.65 664.30Z" fill="#67c7b3" stroke="#000" stroke-width="1.4"/>
<path d="M362.50 670.15L365.65 673.30L362.50 676.45L359.35 673.30Z" fill="#67c7b3" stroke="#000" stroke-width="1.4"/>
<path d="M366.00 650.65L369.15 653.80L366.00 656.95L362.85 653.80Z" fill="#67c7b3" stroke="#000" stroke-width="1.4"/>
<path d="M371.50 657.65L374.65 660.80L371.50 663.95L368.35 660.80Z" fill="#67c7b3" stroke="#000" stroke-width="1.4"/>
<path d="M379.00 652.25L382.15 655.40L379.00 658.55L375.85 655.40Z" fill="#67c7b3" stroke="#000" stroke-width="1.4"/>
<path d="M395.40 621.35L398.55 624.50L395.40 627.65L392.25 624.50Z" fill="#67c7b3" stroke="#000" stroke-width="1.4"/>
<path d="M393.60 628.45L396.75 631.60L393.60 634.75L390.45 631.60Z" fill="#67c7b3" stroke="#000" stroke-width="1.4"/>
<path d="M394.10 636.35L397.25 639.50L394.10 642.65L390.95 639.50Z" fill="#67c7b3" stroke="#000" stroke-width="1.4"/>
<path d="M394.10 646.95L397.25 650.10L394.10 653.25L390.95 650.10Z" fill="#67c7b3" stroke="#000" stroke-width="1.4"/>
<path d="M428.90 632.35L432.05 635.50L428.90 638.65L425.75 635.50Z" fill="#67c7b3" stroke="#000" stroke-width="1.4"/>
<path d="M426.30 642.05L429.45 645.20L426.30 648.35L423.15 645.20Z" fill="#67c7b3" stroke="#000" stroke-width="1.4"/>
<path d="M429.90 644.35L433.05 647.50L429.90 650.65L426.75 647.50Z" fill="#67c7b3" stroke="#000" stroke-width="1.4"/>
<path d="M430.30 658.25L433.45 661.40L430.30 664.55L427.15 661.40Z" fill="#67c7b3" stroke="#000" stroke-width="1.4"/>
<circle cx="352.30" cy="683.40" r="3.5" fill="#ffffff" stroke="#000" stroke-width="1.4"/>
<circle cx="347.90" cy="686.70" r="3.5" fill="#ffffff" stroke="#000" stroke-width="1.4"/>
<circle cx="349.00" cy="691.40" r="3.5" fill="#ffffff" stroke="#000" stroke-width="1.4"/>
<circle cx="369.50" cy="674.50" r="3.5" fill="#ffffff" stroke="#000" stroke-width="1.4"/>
<circle cx="367.20" cy="690.80" r="3.5" fill="#ffffff" stroke="#000" stroke-width="1.4"/>
<circle cx="370.10" cy="691.40" r="3.5" fill="#ffffff" stroke="#000" stroke-width="1.4"/>
<circle cx="368.90" cy="694.90" r="3.5" fill="#ffffff" stroke="#000" stroke-width="1.4"/>
<circle cx="388.30" cy="678.10" r="3.5" fill="#ffffff" stroke="#000" stroke-width="1.4"/>
<circle cx="386.10" cy="687.80" r="3.5" fill="#ffffff" stroke="#000" stroke-width="1.4"/>
<circle cx="389.60" cy="688.60" r="3.5" fill="#ffffff" stroke="#000" stroke-width="1.4"/>
<circle cx="391.40" cy="690.40" r="3.5" fill="#ffffff" stroke="#000" stroke-width="1.4"/>
<circle cx="390.50" cy="697.40" r="3.5" fill="#ffffff" stroke="#000" stroke-width="1.4"/>
<circle cx="425.10" cy="686.00" r="3.5" fill="#ffffff" stroke="#000" stroke-width="1.4"/>
<circle cx="424.70" cy="689.50" r="3.5" fill="#ffffff" stroke="#000" stroke-width="1.4"/>
<circle cx="418.50" cy="694.80" r="3.5" fill="#ffffff" stroke="#000" stroke-width="1.4"/>
<circle cx="418.50" cy="705.30" r="3.5" fill="#ffffff" stroke="#000" stroke-width="1.4"/>
<path d="M349.60 693.05L353.05 699.15L346.15 699.15Z" fill="#cfae62" stroke="#000" stroke-width="1.4"/>
<path d="M354.70 695.35L358.15 701.45L351.25 701.45Z" fill="#cfae62" stroke="#000" stroke-width="1.4"/>
<path d="M355.50 693.55L358.95 699.65L352.05 699.65Z" fill="#cfae62" stroke="#000" stroke-width="1.4"/>
<path d="M351.20 703.25L354.65 709.35L347.75 709.35Z" fill="#cfae62" stroke="#000" stroke-width="1.4"/>
<path d="M365.40 704.65L368.85 710.75L361.95 710.75Z" fill="#cfae62" stroke="#000" stroke-width="1.4"/>
<path d="M367.50 709.95L370.95 716.05L364.05 716.05Z" fill="#cfae62" stroke="#000" stroke-width="1.4"/>
<path d="M371.50 708.45L374.95 714.55L368.05 714.55Z" fill="#cfae62" stroke="#000" stroke-width="1.4"/>
<path d="M369.80 705.85L373.25 711.95L366.35 711.95Z" fill="#cfae62" stroke="#000" stroke-width="1.4"/>
<path d="M355.80 716.95L359.25 723.05L352.35 723.05Z" fill="#cfae62" stroke="#000" stroke-width="1.4"/>
<path d="M391.90 653.65L395.35 659.75L388.45 659.75Z" fill="#cfae62" stroke="#000" stroke-width="1.4"/>
<path d="M417.00 675.55L420.45 681.65L413.55 681.65Z" fill="#cfae62" stroke="#000" stroke-width="1.4"/>
<path d="M421.90 674.25L425.35 680.35L418.45 680.35Z" fill="#cfae62" stroke="#000" stroke-width="1.4"/>
<path d="M386.10 687.75L389.55 693.85L382.65 693.85Z" fill="#cfae62" stroke="#000" stroke-width="1.4"/>
<path d="M388.30 692.15L391.75 698.25L384.85 698.25Z" fill="#cfae62" stroke="#000" stroke-width="1.4"/>
<path d="M387.90 697.85L391.35 703.95L384.45 703.95Z" fill="#cfae62" stroke="#000" stroke-width="1.4"/>
<path d="M421.20 692.15L424.65 698.25L417.75 698.25Z" fill="#cfae62" stroke="#000" stroke-width="1.4"/>
<path d="M422.90 695.65L426.35 701.75L419.45 701.75Z" fill="#cfae62" stroke="#000" stroke-width="1.4"/>
<path d="M421.20 697.85L424.65 703.95L417.75 703.95Z" fill="#cfae62" stroke="#000" stroke-width="1.4"/>
<path d="M417.70 700.45L421.15 706.55L414.25 706.55Z" fill="#cfae62" stroke="#000" stroke-width="1.4"/>
<path d="M426.00 710.15L429.45 716.25L422.55 716.25Z" fill="#cfae62" stroke="#000" stroke-width="1.4"/>
<circle cx="331.50" cy="726.20" r="2.05" fill="#000"/>
<circle cx="341.50" cy="718.80" r="2.05" fill="#000"/>
<circle cx="342.60" cy="717.70" r="2.05" fill="#000"/>
<circle cx="350.20" cy="705.40" r="2.05" fill="#000"/>
<circle cx="352.00" cy="707.20" r="2.05" fill="#000"/>
<circle cx="350.20" cy="699.60" r="2.05" fill="#000"/>
<circle cx="374.70" cy="701.30" r="2.05" fill="#000"/>
<circle cx="373.00" cy="703.10" r="2.05" fill="#000"/>
<circle cx="378.80" cy="704.80" r="2.05" fill="#000"/>
<circle cx="375.30" cy="701.10" r="2.05" fill="#000"/>
<circle cx="379.30" cy="705.10" r="2.05" fill="#000"/>
<circle cx="395.80" cy="694.50" r="2.05" fill="#000"/>
<circle cx="396.50" cy="705.10" r="2.05" fill="#000"/>
<circle cx="427.00" cy="679.90" r="2.05" fill="#000"/>
<circle cx="429.60" cy="683.90" r="2.05" fill="#000"/>
<circle cx="430.90" cy="691.80" r="2.05" fill="#000"/>
<circle cx="433.60" cy="701.10" r="2.05" fill="#000"/>
<circle cx="431.60" cy="705.70" r="2.05" fill="#000"/>
<circle cx="432.50" cy="708.00" r="2.05" fill="#000"/>
<circle cx="393.10" cy="694.80" r="2.05" fill="#000"/>
<circle cx="395.30" cy="704.90" r="2.05" fill="#000"/>
<circle cx="380.40" cy="704.90" r="2.05" fill="#000"/>
<circle cx="430.40" cy="664.50" r="2.05" fill="#000"/>
<circle cx="350.50" cy="706.00" r="2.05" fill="#000"/>
<circle cx="351.50" cy="707.50" r="2.05" fill="#000"/>
<circle cx="352.50" cy="706.50" r="2.05" fill="#000"/>
<circle cx="350.00" cy="708.00" r="2.05" fill="#000"/>
<circle cx="374.00" cy="700.50" r="2.05" fill="#000"/>
<circle cx="376.00" cy="702.00" r="2.05" fill="#000"/>
<path d="M572.10 656.15L575.25 659.30L572.10 662.45L568.95 659.30Z" fill="#67c7b3" stroke="#000" stroke-width="1.4"/>
<path d="M575.90 653.75L579.05 656.90L575.90 660.05L572.75 656.90Z" fill="#67c7b3" stroke="#000" stroke-width="1.4"/>
<path d="M580.70 655.95L583.85 659.10L580.70 662.25L577.55 659.10Z" fill="#67c7b3" stroke="#000" stroke-width="1.4"/>
<path d="M590.90 662.15L594.05 665.30L590.90 668.45L587.75 665.30Z" fill="#67c7b3" stroke="#000" stroke-width="1.4"/>
<path d="M583.40 674.75L586.55 677.90L583.40 681.05L580.25 677.90Z" fill="#67c7b3" stroke="#000" stroke-width="1.4"/>
<path d="M597.50 651.95L600.65 655.10L597.50 658.25L594.35 655.10Z" fill="#67c7b3" stroke="#000" stroke-width="1.4"/>
<path d="M613.70 658.05L616.85 661.20L613.70 664.35L610.55 661.20Z" fill="#67c7b3" stroke="#000" stroke-width="1.4"/>
<path d="M612.00 668.15L615.15 671.30L612.00 674.45L608.85 671.30Z" fill="#67c7b3" stroke="#000" stroke-width="1.4"/>
<path d="M612.30 670.85L615.45 674.00L612.30 677.15L609.15 674.00Z" fill="#67c7b3" stroke="#000" stroke-width="1.4"/>
<path d="M646.90 697.55L650.05 700.70L646.90 703.85L643.75 700.70Z" fill="#67c7b3" stroke="#000" stroke-width="1.4"/>
<path d="M647.20 701.15L650.35 704.30L647.20 707.45L644.05 704.30Z" fill="#67c7b3" stroke="#000" stroke-width="1.4"/>
<path d="M644.50 705.95L647.65 709.10L644.50 712.25L641.35 709.10Z" fill="#67c7b3" stroke="#000" stroke-width="1.4"/>
<path d="M648.90 708.55L652.05 711.70L648.90 714.85L645.75 711.70Z" fill="#67c7b3" stroke="#000" stroke-width="1.4"/>
<circle cx="566.60" cy="627.90" r="3.5" fill="#ffffff" stroke="#000" stroke-width="1.4"/>
<circle cx="570.90" cy="632.40" r="3.5" fill="#ffffff" stroke="#000" stroke-width="1.4"/>
<circle cx="566.90" cy="636.00" r="3.5" fill="#ffffff" stroke="#000" stroke-width="1.4"/>
<circle cx="569.30" cy="639.00" r="3.5" fill="#ffffff" stroke="#000" stroke-width="1.4"/>
<circle cx="570.50" cy="643.70" r="3.5" fill="#ffffff" stroke="#000" stroke-width="1.4"/>
<circle cx="586.70" cy="662.30" r="3.5" fill="#ffffff" stroke="#000" stroke-width="1.4"/>
<circle cx="587.30" cy="669.50" r="3.5" fill="#ffffff" stroke="#000" stroke-width="1.4"/>
<circle cx="584.60" cy="672.50" r="3.5" fill="#ffffff" stroke="#000" stroke-width="1.4"/>
<circle cx="588.50" cy="678.50" r="3.5" fill="#ffffff" stroke="#000" stroke-width="1.4"/>
<circle cx="586.10" cy="682.10" r="3.5" fill="#ffffff" stroke="#000" stroke-width="1.4"/>
<circle cx="606.40" cy="686.50" r="3.5" fill="#ffffff" stroke="#000" stroke-width="1.4"/>
<circle cx="604.60" cy="695.80" r="3.5" fill="#ffffff" stroke="#000" stroke-width="1.4"/>
<circle cx="608.20" cy="702.50" r="3.5" fill="#ffffff" stroke="#000" stroke-width="1.4"/>
<circle cx="608.00" cy="715.10" r="3.5" fill="#ffffff" stroke="#000" stroke-width="1.4"/>
<circle cx="642.70" cy="679.80" r="3.5" fill="#ffffff" stroke="#000" stroke-width="1.4"/>
<circle cx="637.30" cy="725.30" r="3.5" fill="#ffffff" stroke="#000" stroke-width="1.4"/>
<circle cx="642.70" cy="719.90" r="3.5" fill="#ffffff" stroke="#000" stroke-width="1.4"/>
<path d="M568.10 643.65L571.55 649.75L564.65 649.75Z" fill="#cfae62" stroke="#000" stroke-width="1.4"/>
<path d="M573.50 666.85L576.95 672.95L570.05 672.95Z" fill="#cfae62" stroke="#000" stroke-width="1.4"/>
<path d="M569.90 672.45L573.35 678.55L566.45 678.55Z" fill="#cfae62" stroke="#000" stroke-width="1.4"/>
<path d="M573.50 677.55L576.95 683.65L570.05 683.65Z" fill="#cfae62" stroke="#000" stroke-width="1.4"/>
<path d="M587.30 680.85L590.75 686.95L583.85 686.95Z" fill="#cfae62" stroke="#000" stroke-width="1.4"/>
<path d="M589.70 682.65L593.15 688.75L586.25 688.75Z" fill="#cfae62" stroke="#000" stroke-width="1.4"/>
<path d="M587.90 687.35L591.35 693.45L584.45 693.45Z" fill="#cfae62" stroke="#000" stroke-width="1.4"/>
<path d="M584.30 690.35L587.75 696.45L580.85 696.45Z" fill="#cfae62" stroke="#000" stroke-width="1.4"/>
<path d="M586.10 692.15L589.55 698.25L582.65 698.25Z" fill="#cfae62" stroke="#000" stroke-width="1.4"/>
<path d="M610.60 684.45L614.05 690.55L607.15 690.55Z" fill="#cfae62" stroke="#000" stroke-width="1.4"/>
<path d="M604.50 697.65L607.95 703.75L601.05 703.75Z" fill="#cfae62" stroke="#000" stroke-width="1.4"/>
<path d="M607.40 696.45L610.85 702.55L603.95 702.55Z" fill="#cfae62" stroke="#000" stroke-width="1.4"/>
<path d="M605.60 707.85L609.05 713.95L602.15 713.95Z" fill="#cfae62" stroke="#000" stroke-width="1.4"/>
<path d="M605.00 718.05L608.45 724.15L601.55 724.15Z" fill="#cfae62" stroke="#000" stroke-width="1.4"/>
<path d="M643.90 691.65L647.35 697.75L640.45 697.75Z" fill="#cfae62" stroke="#000" stroke-width="1.4"/>
<path d="M635.50 701.85L638.95 707.95L632.05 707.95Z" fill="#cfae62" stroke="#000" stroke-width="1.4"/>
<path d="M635.50 715.65L638.95 721.75L632.05 721.75Z" fill="#cfae62" stroke="#000" stroke-width="1.4"/>
<path d="M639.70 715.05L643.15 721.15L636.25 721.15Z" fill="#cfae62" stroke="#000" stroke-width="1.4"/>
<path d="M641.50 725.85L644.95 731.95L638.05 731.95Z" fill="#cfae62" stroke="#000" stroke-width="1.4"/>
<path d="M639.10 728.85L642.55 734.95L635.65 734.95Z" fill="#cfae62" stroke="#000" stroke-width="1.4"/>
<circle cx="560.60" cy="632.00" r="2.05" fill="#000"/>
<circle cx="549.60" cy="659.30" r="2.05" fill="#000"/>
<circle cx="567.80" cy="671.00" r="2.05" fill="#000"/>
<circle cx="559.40" cy="682.70" r="2.05" fill="#000"/>
<circle cx="569.90" cy="686.60" r="2.05" fill="#000"/>
<circle cx="597.50" cy="679.70" r="2.05" fill="#000"/>
<circle cx="592.70" cy="690.40" r="2.05" fill="#000"/>
<circle cx="595.10" cy="704.20" r="2.05" fill="#000"/>
<circle cx="614.90" cy="704.20" r="2.05" fill="#000"/>
<circle cx="611.60" cy="710.90" r="2.05" fill="#000"/>
<circle cx="614.00" cy="715.30" r="2.05" fill="#000"/>
<circle cx="648.70" cy="720.80" r="2.05" fill="#000"/>
<circle cx="651.70" cy="725.90" r="2.05" fill="#000"/>
<circle cx="648.10" cy="731.30" r="2.05" fill="#000"/>
<circle cx="650.50" cy="736.60" r="2.05" fill="#000"/>
<circle cx="649.90" cy="738.40" r="2.05" fill="#000"/>
<rect x="83.0" y="19.5" width="47.4" height="77.8" fill="#fff" stroke="#000" stroke-width="1.3"/>
<text x="88.6" y="35.4" font-size="12">pH<tspan font-size="8.2" dy="0.6">total</tspan></text>
<circle cx="93.00" cy="46.00" r="2.95" fill="#8ed27c" stroke="#000" stroke-width="1.3"/>
<path d="M93.00 56.24L96.36 59.60L93.00 62.96L89.64 59.60Z" fill="#000" stroke="#000" stroke-width="0.4"/>
<path d="M93.00 70.44L96.20 76.36L89.80 76.36Z" fill="#fff" stroke="#000" stroke-width="1.3"/>
<rect x="90.11" y="83.71" width="5.77" height="5.77" fill="#b597dd" stroke="#000" stroke-width="1.3"/>
<text x="100.80" y="49.80" font-size="12" text-anchor="start" font-weight="normal" >8.20</text>
<text x="100.80" y="63.30" font-size="12" text-anchor="start" font-weight="normal" >8.34</text>
<text x="100.80" y="76.80" font-size="12" text-anchor="start" font-weight="normal" >8.41</text>
<text x="100.80" y="90.20" font-size="12" text-anchor="start" font-weight="normal" >8.59</text>
<rect x="83.2" y="220.6" width="50.4" height="74.6" fill="#fff" stroke="#000" stroke-width="1.3"/>
<path d="M93.10 227.63L96.67 231.20L93.10 234.77L89.53 231.20Z" fill="#3f7fd2" stroke="#000" stroke-width="1.4"/>
<rect x="89.95" y="241.85" width="6.29" height="6.29" fill="#bcd0ee" stroke="#000" stroke-width="1.4"/>
<circle cx="93.10" cy="259.60" r="3.48" fill="#f2f22a" stroke="#000" stroke-width="1.4"/>
<path d="M93.10 269.46L96.71 276.14L89.49 276.14Z" fill="#e8b52c" stroke="#000" stroke-width="1.4"/>
<circle cx="93.10" cy="285.50" r="3.48" fill="#d41e1a" stroke="#000" stroke-width="1.4"/>
<text x="102.20" y="234.80" font-size="12" text-anchor="start" font-weight="normal" >10°C</text>
<text x="102.20" y="248.80" font-size="12" text-anchor="start" font-weight="normal" >15°C</text>
<text x="102.20" y="262.80" font-size="12" text-anchor="start" font-weight="normal" >20°C</text>
<text x="102.20" y="276.80" font-size="12" text-anchor="start" font-weight="normal" >25°C</text>
<text x="102.20" y="290.80" font-size="12" text-anchor="start" font-weight="normal" >30°C</text>
<rect x="83.3" y="428.7" width="48.6" height="66.9" fill="#fff" stroke="#000" stroke-width="1.3"/>
<circle cx="89.6" cy="438.00" r="2.1" fill="#000"/>
<path d="M89.90 450.42L93.18 453.70L89.90 456.98L86.62 453.70Z" fill="#67c7b3" stroke="#000" stroke-width="1.3"/>
<circle cx="89.70" cy="469.90" r="2.95" fill="#fff" stroke="#000" stroke-width="1.3"/>
<path d="M89.80 483.46L93.08 489.54L86.52 489.54Z" fill="#cfae62" stroke="#000" stroke-width="1.3"/>
<text x="96.20" y="441.40" font-size="12" text-anchor="start" font-weight="normal" >no AA</text>
<text x="96.20" y="456.90" font-size="12" text-anchor="start" font-weight="normal" >Asp</text>
<text x="96.20" y="473.30" font-size="12" text-anchor="start" font-weight="normal" >Glu</text>
<text x="96.20" y="489.30" font-size="12" text-anchor="start" font-weight="normal" >Gly</text>
<rect x="83.3" y="623.2" width="48.6" height="67.3" fill="#fff" stroke="#000" stroke-width="1.3"/>
<circle cx="89.6" cy="632.50" r="2.1" fill="#000"/>
<path d="M89.90 644.92L93.18 648.20L89.90 651.48L86.62 648.20Z" fill="#67c7b3" stroke="#000" stroke-width="1.3"/>
<circle cx="89.70" cy="664.40" r="2.95" fill="#fff" stroke="#000" stroke-width="1.3"/>
<path d="M89.80 677.96L93.08 684.04L86.52 684.04Z" fill="#cfae62" stroke="#000" stroke-width="1.3"/>
<text x="96.20" y="635.90" font-size="12" text-anchor="start" font-weight="normal" >no AA</text>
<text x="96.20" y="651.40" font-size="12" text-anchor="start" font-weight="normal" >Asp</text>
<text x="96.20" y="667.80" font-size="12" text-anchor="start" font-weight="normal" >Glu</text>
<text x="96.20" y="683.80" font-size="12" text-anchor="start" font-weight="normal" >Gly</text>
</svg></body></html>
